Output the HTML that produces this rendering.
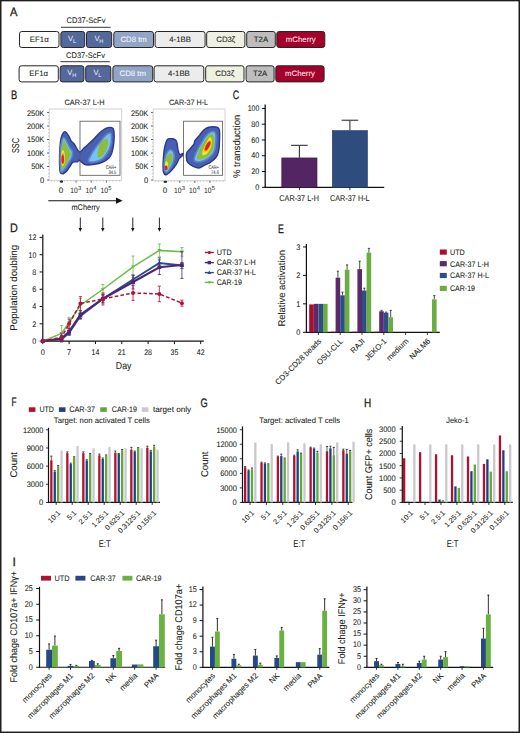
<!DOCTYPE html>
<html><head><meta charset="utf-8"><title>Figure</title>
<style>
html,body{margin:0;padding:0;background:#fff;}
body{width:520px;height:733px;overflow:hidden;}
svg{display:block;font-family:"Liberation Sans", sans-serif;text-rendering:geometricPrecision;}
</style></head><body>
<svg width="520" height="733" viewBox="0 0 520 733">
<rect x="0" y="0" width="520" height="733" fill="#fff"/>
<g fill="#231f20">
<text x="10.00" y="15.90" font-size="12.2" stroke="#231f20" stroke-width="0.08" textLength="7.4" lengthAdjust="spacingAndGlyphs" style="stroke-width:0.3px">A</text>
<rect x="19.50" y="31.50" width="39.50" height="16.00" rx="2.3" fill="#ffffff" stroke="#262626" stroke-width="1"/>
<text x="39.25" y="41.90" font-size="7.8" text-anchor="middle" stroke="#231f20" stroke-width="0.08">EF1&#945;</text>
<rect x="60.90" y="31.50" width="23.80" height="16.00" rx="2.3" fill="#54699b" stroke="#262626" stroke-width="1"/>
<text x="68.10" y="40.60" font-size="7.6" fill="#eef1f7">V</text>
<text x="72.90" y="43.00" font-size="5.6" fill="#eef1f7">L</text>
<rect x="86.50" y="31.50" width="25.20" height="16.00" rx="2.3" fill="#54699b" stroke="#262626" stroke-width="1"/>
<text x="94.40" y="40.60" font-size="7.6" fill="#eef1f7">V</text>
<text x="99.20" y="43.00" font-size="5.6" fill="#eef1f7">H</text>
<rect x="113.80" y="31.50" width="39.70" height="16.00" rx="2.3" fill="#93a5c6" stroke="#262626" stroke-width="1"/>
<text x="133.65" y="41.90" font-size="7.8" text-anchor="middle" fill="#f4f6fa" stroke="#f4f6fa" stroke-width="0.08">CD8 tm</text>
<rect x="155.10" y="31.50" width="50.00" height="16.00" rx="2.3" fill="#ececec" stroke="#262626" stroke-width="1"/>
<text x="180.10" y="41.90" font-size="7.8" text-anchor="middle" stroke="#231f20" stroke-width="0.08">4-1BB</text>
<rect x="206.70" y="31.50" width="38.20" height="16.00" rx="2.3" fill="#eef0e2" stroke="#262626" stroke-width="1"/>
<text x="225.80" y="41.90" font-size="7.8" text-anchor="middle" stroke="#231f20" stroke-width="0.08">CD3&#950;</text>
<rect x="246.70" y="31.50" width="28.60" height="16.00" rx="2.3" fill="#bdbdbd" stroke="#262626" stroke-width="1"/>
<text x="261.00" y="41.90" font-size="7.8" text-anchor="middle" stroke="#231f20" stroke-width="0.08">T2A</text>
<rect x="276.80" y="31.50" width="48.00" height="16.00" rx="2.3" fill="#a5002b" stroke="#262626" stroke-width="1"/>
<text x="300.80" y="41.90" font-size="7.8" text-anchor="middle" fill="#f7e6ea" stroke="#f7e6ea" stroke-width="0.08">mCherry</text>
<rect x="19.10" y="65.80" width="39.20" height="16.10" rx="2.3" fill="#ffffff" stroke="#262626" stroke-width="1"/>
<text x="38.70" y="76.25" font-size="7.8" text-anchor="middle" stroke="#231f20" stroke-width="0.08">EF1&#945;</text>
<rect x="60.20" y="65.80" width="23.70" height="16.10" rx="2.3" fill="#54699b" stroke="#262626" stroke-width="1"/>
<text x="67.35" y="74.95" font-size="7.6" fill="#eef1f7">V</text>
<text x="72.15" y="77.35" font-size="5.6" fill="#eef1f7">H</text>
<rect x="85.70" y="65.80" width="25.10" height="16.10" rx="2.3" fill="#54699b" stroke="#262626" stroke-width="1"/>
<text x="93.55" y="74.95" font-size="7.6" fill="#eef1f7">V</text>
<text x="98.35" y="77.35" font-size="5.6" fill="#eef1f7">L</text>
<rect x="112.90" y="65.80" width="39.80" height="16.10" rx="2.3" fill="#93a5c6" stroke="#262626" stroke-width="1"/>
<text x="132.80" y="76.25" font-size="7.8" text-anchor="middle" fill="#f4f6fa" stroke="#f4f6fa" stroke-width="0.08">CD8 tm</text>
<rect x="154.10" y="65.80" width="49.70" height="16.10" rx="2.3" fill="#ececec" stroke="#262626" stroke-width="1"/>
<text x="178.95" y="76.25" font-size="7.8" text-anchor="middle" stroke="#231f20" stroke-width="0.08">4-1BB</text>
<rect x="205.70" y="65.80" width="38.30" height="16.10" rx="2.3" fill="#eef0e2" stroke="#262626" stroke-width="1"/>
<text x="224.85" y="76.25" font-size="7.8" text-anchor="middle" stroke="#231f20" stroke-width="0.08">CD3&#950;</text>
<rect x="246.10" y="65.80" width="28.00" height="16.10" rx="2.3" fill="#bdbdbd" stroke="#262626" stroke-width="1"/>
<text x="260.10" y="76.25" font-size="7.8" text-anchor="middle" stroke="#231f20" stroke-width="0.08">T2A</text>
<rect x="275.80" y="65.80" width="48.30" height="16.10" rx="2.3" fill="#a5002b" stroke="#262626" stroke-width="1"/>
<text x="299.95" y="76.25" font-size="7.8" text-anchor="middle" fill="#f7e6ea" stroke="#f7e6ea" stroke-width="0.08">mCherry</text>
<text x="86.00" y="23.00" font-size="8.2" text-anchor="middle" stroke="#231f20" stroke-width="0.08" textLength="38.8" lengthAdjust="spacingAndGlyphs">CD37-ScFv</text>
<line x1="61.00" y1="27.30" x2="110.60" y2="27.30" stroke="#231f20" stroke-width="0.9"/>
<text x="85.50" y="57.60" font-size="8.2" text-anchor="middle" stroke="#231f20" stroke-width="0.08" textLength="38.8" lengthAdjust="spacingAndGlyphs">CD37-ScFv</text>
<line x1="60.40" y1="61.70" x2="109.80" y2="61.70" stroke="#231f20" stroke-width="0.9"/>
<text x="10.90" y="99.00" font-size="12.2" stroke="#231f20" stroke-width="0.08" textLength="6.2" lengthAdjust="spacingAndGlyphs" style="stroke-width:0.3px">B</text>
<defs><filter id="bl" x="-20%" y="-20%" width="140%" height="140%"><feGaussianBlur stdDeviation="0.55"/></filter></defs>
<text x="84.50" y="104.80" font-size="7.8" text-anchor="middle" stroke="#231f20" stroke-width="0.08" textLength="40.2" lengthAdjust="spacingAndGlyphs">CAR-37 L-H</text>
<rect x="49.30" y="109.00" width="72.30" height="71.40" fill="none" stroke="#d6d6d6" stroke-width="1.1"/>
<g filter="url(#bl)">
<path d="M65.50,131.80C66.50,132.30 67.97,134.80 68.90,136.30C69.83,137.80 70.17,139.43 71.10,140.80C72.03,142.17 73.43,143.00 74.50,144.50C75.57,146.00 76.58,148.55 77.50,149.80C78.42,151.05 78.92,152.30 80.00,152.00C81.08,151.70 82.98,148.97 84.00,148.00C85.02,147.03 84.95,147.23 86.10,146.20C87.25,145.17 89.15,143.48 90.90,141.80C92.65,140.12 94.85,137.85 96.60,136.10C98.35,134.35 99.78,132.63 101.40,131.30C103.02,129.97 104.55,128.70 106.30,128.10C108.05,127.50 110.63,127.23 111.90,127.70C113.17,128.17 113.57,128.48 113.90,130.90C114.23,133.32 114.23,138.57 113.90,142.20C113.57,145.83 112.77,150.02 111.90,152.70C111.03,155.38 110.32,156.68 108.70,158.30C107.08,159.92 104.62,161.38 102.20,162.40C99.78,163.42 96.88,164.00 94.20,164.40C91.52,164.80 88.13,165.13 86.10,164.80C84.07,164.47 83.18,163.20 82.00,162.40C80.82,161.60 79.75,160.10 79.00,160.00C78.25,159.90 78.50,161.45 77.50,161.80C76.50,162.15 74.25,161.35 73.00,162.10C71.75,162.85 71.00,164.85 70.00,166.30C69.00,167.75 68.12,169.55 67.00,170.80C65.88,172.05 64.42,173.55 63.30,173.80C62.18,174.05 60.93,174.18 60.30,172.30C59.67,170.42 59.57,166.63 59.50,162.50C59.43,158.37 59.65,151.50 59.90,147.50C60.15,143.50 60.50,140.87 61.00,138.50C61.50,136.13 62.15,134.42 62.90,133.30C63.65,132.18 64.50,131.30 65.50,131.80Z" fill="#4a5eb2" stroke="#2c3990" stroke-width="1.4" stroke-linejoin="round"/>
<path d="M63.80,137.50C64.58,137.50 65.55,139.42 66.50,141.00C67.45,142.58 68.50,145.17 69.50,147.00C70.50,148.83 72.08,150.33 72.50,152.00C72.92,153.67 72.75,155.00 72.00,157.00C71.25,159.00 69.42,161.75 68.00,164.00C66.58,166.25 64.67,169.25 63.50,170.50C62.33,171.75 61.55,172.75 61.00,171.50C60.45,170.25 60.30,166.58 60.20,163.00C60.10,159.42 60.13,153.67 60.40,150.00C60.67,146.33 61.23,143.08 61.80,141.00C62.37,138.92 63.02,137.50 63.80,137.50Z" fill="#72c5ef" stroke="#5d82cc" stroke-width="1.6" stroke-linejoin="round"/>
<path d="M64.20,140.50C64.95,140.83 65.95,143.92 67.00,146.00C68.05,148.08 70.00,151.25 70.50,153.00C71.00,154.75 70.67,154.67 70.00,156.50C69.33,158.33 67.73,161.75 66.50,164.00C65.27,166.25 63.48,169.83 62.60,170.00C61.72,170.17 61.43,168.00 61.20,165.00C60.97,162.00 60.98,155.50 61.20,152.00C61.42,148.50 62.00,145.92 62.50,144.00C63.00,142.08 63.45,140.17 64.20,140.50Z" fill="#8cbd3b"/>
<ellipse cx="62.9" cy="158.0" rx="2.0" ry="8.0" transform="rotate(0 62.9 158.0)" fill="#f4e52a"/>
<ellipse cx="62.8" cy="158.8" rx="1.6" ry="6.0" transform="rotate(0 62.8 158.8)" fill="#f6961c"/>
<ellipse cx="62.7" cy="159.3" rx="1.25" ry="4.4" transform="rotate(0 62.7 159.3)" fill="#e1201b"/>
<path d="M88.50,161.00C88.00,159.83 90.08,156.83 91.00,155.00C91.92,153.17 92.83,151.75 94.00,150.00C95.17,148.25 96.58,146.33 98.00,144.50C99.42,142.67 101.08,140.67 102.50,139.00C103.92,137.33 105.17,135.50 106.50,134.50C107.83,133.50 109.67,132.58 110.50,133.00C111.33,133.42 111.50,134.83 111.50,137.00C111.50,139.17 111.25,143.25 110.50,146.00C109.75,148.75 108.50,151.25 107.00,153.50C105.50,155.75 103.67,158.08 101.50,159.50C99.33,160.92 96.17,161.75 94.00,162.00C91.83,162.25 89.00,162.17 88.50,161.00Z" fill="#72c5ef" stroke="#5d82cc" stroke-width="1.6" stroke-linejoin="round"/>
<path d="M97.40,155.90C97.53,154.02 98.07,148.75 99.00,146.20C99.93,143.65 101.65,141.93 103.00,140.60C104.35,139.27 106.28,137.80 107.10,138.20C107.92,138.60 108.03,140.98 107.90,143.00C107.77,145.02 107.25,148.15 106.30,150.30C105.35,152.45 103.55,154.70 102.20,155.90C100.85,157.10 99.00,157.50 98.20,157.50C97.40,157.50 97.27,157.78 97.40,155.90Z" fill="#8cbd3b"/>
</g>
<rect x="80.00" y="121.20" width="40.00" height="54.10" fill="none" stroke="#555" stroke-width="0.8"/>
<text x="116.20" y="168.60" font-size="5.2" text-anchor="end" fill="#444" stroke="#444" stroke-width="0.08" textLength="10.4" lengthAdjust="spacingAndGlyphs">CAR+</text>
<text x="116.30" y="173.50" font-size="5.2" text-anchor="end" fill="#444" stroke="#444" stroke-width="0.08" textLength="7.9" lengthAdjust="spacingAndGlyphs">34.5</text>
<text x="44.20" y="115.50" font-size="8.0" text-anchor="end" stroke="#231f20" stroke-width="0.08" textLength="17.3" lengthAdjust="spacingAndGlyphs">250K</text>
<line x1="47.10" y1="112.60" x2="49.00" y2="112.60" stroke="#333" stroke-width="0.8"/>
<text x="44.20" y="128.90" font-size="8.0" text-anchor="end" stroke="#231f20" stroke-width="0.08" textLength="17.3" lengthAdjust="spacingAndGlyphs">200K</text>
<line x1="47.10" y1="126.00" x2="49.00" y2="126.00" stroke="#333" stroke-width="0.8"/>
<text x="44.20" y="142.40" font-size="8.0" text-anchor="end" stroke="#231f20" stroke-width="0.08" textLength="17.3" lengthAdjust="spacingAndGlyphs">150K</text>
<line x1="47.10" y1="139.50" x2="49.00" y2="139.50" stroke="#333" stroke-width="0.8"/>
<text x="44.20" y="155.90" font-size="8.0" text-anchor="end" stroke="#231f20" stroke-width="0.08" textLength="17.3" lengthAdjust="spacingAndGlyphs">100K</text>
<line x1="47.10" y1="153.00" x2="49.00" y2="153.00" stroke="#333" stroke-width="0.8"/>
<text x="44.20" y="169.40" font-size="8.0" text-anchor="end" stroke="#231f20" stroke-width="0.08" textLength="13.0" lengthAdjust="spacingAndGlyphs">50K</text>
<line x1="47.10" y1="166.50" x2="49.00" y2="166.50" stroke="#333" stroke-width="0.8"/>
<text x="44.20" y="182.90" font-size="8.0" text-anchor="end" stroke="#231f20" stroke-width="0.08" textLength="4.2" lengthAdjust="spacingAndGlyphs">0</text>
<line x1="47.10" y1="180.00" x2="49.00" y2="180.00" stroke="#333" stroke-width="0.8"/>
<line x1="48.10" y1="122.65" x2="49.00" y2="122.65" stroke="#888" stroke-width="0.5"/>
<line x1="48.10" y1="119.30" x2="49.00" y2="119.30" stroke="#888" stroke-width="0.5"/>
<line x1="48.10" y1="115.95" x2="49.00" y2="115.95" stroke="#888" stroke-width="0.5"/>
<line x1="48.10" y1="136.15" x2="49.00" y2="136.15" stroke="#888" stroke-width="0.5"/>
<line x1="48.10" y1="132.80" x2="49.00" y2="132.80" stroke="#888" stroke-width="0.5"/>
<line x1="48.10" y1="129.45" x2="49.00" y2="129.45" stroke="#888" stroke-width="0.5"/>
<line x1="48.10" y1="149.65" x2="49.00" y2="149.65" stroke="#888" stroke-width="0.5"/>
<line x1="48.10" y1="146.30" x2="49.00" y2="146.30" stroke="#888" stroke-width="0.5"/>
<line x1="48.10" y1="142.95" x2="49.00" y2="142.95" stroke="#888" stroke-width="0.5"/>
<line x1="48.10" y1="163.15" x2="49.00" y2="163.15" stroke="#888" stroke-width="0.5"/>
<line x1="48.10" y1="159.80" x2="49.00" y2="159.80" stroke="#888" stroke-width="0.5"/>
<line x1="48.10" y1="156.45" x2="49.00" y2="156.45" stroke="#888" stroke-width="0.5"/>
<line x1="48.10" y1="176.65" x2="49.00" y2="176.65" stroke="#888" stroke-width="0.5"/>
<line x1="48.10" y1="173.30" x2="49.00" y2="173.30" stroke="#888" stroke-width="0.5"/>
<line x1="48.10" y1="169.95" x2="49.00" y2="169.95" stroke="#888" stroke-width="0.5"/>
<line x1="61.59" y1="180.70" x2="61.59" y2="182.60" stroke="#333" stroke-width="0.8"/>
<line x1="76.05" y1="180.70" x2="76.05" y2="182.60" stroke="#333" stroke-width="0.8"/>
<line x1="91.23" y1="180.70" x2="91.23" y2="182.60" stroke="#333" stroke-width="0.8"/>
<line x1="106.42" y1="180.70" x2="106.42" y2="182.60" stroke="#333" stroke-width="0.8"/>
<line x1="51.30" y1="180.70" x2="51.30" y2="181.60" stroke="#888" stroke-width="0.5"/>
<line x1="54.55" y1="180.70" x2="54.55" y2="181.60" stroke="#888" stroke-width="0.5"/>
<line x1="57.80" y1="180.70" x2="57.80" y2="181.60" stroke="#888" stroke-width="0.5"/>
<line x1="61.06" y1="180.70" x2="61.06" y2="181.60" stroke="#888" stroke-width="0.5"/>
<line x1="64.31" y1="180.70" x2="64.31" y2="181.60" stroke="#888" stroke-width="0.5"/>
<line x1="67.56" y1="180.70" x2="67.56" y2="181.60" stroke="#888" stroke-width="0.5"/>
<line x1="70.81" y1="180.70" x2="70.81" y2="181.60" stroke="#888" stroke-width="0.5"/>
<line x1="74.07" y1="180.70" x2="74.07" y2="181.60" stroke="#888" stroke-width="0.5"/>
<line x1="77.32" y1="180.70" x2="77.32" y2="181.60" stroke="#888" stroke-width="0.5"/>
<line x1="80.57" y1="180.70" x2="80.57" y2="181.60" stroke="#888" stroke-width="0.5"/>
<line x1="83.82" y1="180.70" x2="83.82" y2="181.60" stroke="#888" stroke-width="0.5"/>
<line x1="87.08" y1="180.70" x2="87.08" y2="181.60" stroke="#888" stroke-width="0.5"/>
<line x1="90.33" y1="180.70" x2="90.33" y2="181.60" stroke="#888" stroke-width="0.5"/>
<line x1="93.58" y1="180.70" x2="93.58" y2="181.60" stroke="#888" stroke-width="0.5"/>
<line x1="96.83" y1="180.70" x2="96.83" y2="181.60" stroke="#888" stroke-width="0.5"/>
<line x1="100.09" y1="180.70" x2="100.09" y2="181.60" stroke="#888" stroke-width="0.5"/>
<line x1="103.34" y1="180.70" x2="103.34" y2="181.60" stroke="#888" stroke-width="0.5"/>
<line x1="106.59" y1="180.70" x2="106.59" y2="181.60" stroke="#888" stroke-width="0.5"/>
<line x1="109.84" y1="180.70" x2="109.84" y2="181.60" stroke="#888" stroke-width="0.5"/>
<line x1="113.10" y1="180.70" x2="113.10" y2="181.60" stroke="#888" stroke-width="0.5"/>
<line x1="116.35" y1="180.70" x2="116.35" y2="181.60" stroke="#888" stroke-width="0.5"/>
<line x1="119.60" y1="180.70" x2="119.60" y2="181.60" stroke="#888" stroke-width="0.5"/>
<rect x="59.80" y="180.70" width="3.2" height="1.8" fill="#222"/>
<text x="61.09" y="193.20" font-size="8.0" text-anchor="middle" stroke="#231f20" stroke-width="0.08">0</text>
<text x="70.25" y="193.2" font-size="7.8" textLength="7.5" lengthAdjust="spacingAndGlyphs">10</text>
<text x="77.95" y="189.8" font-size="5.8">3</text>
<text x="85.43" y="193.2" font-size="7.8" textLength="7.5" lengthAdjust="spacingAndGlyphs">10</text>
<text x="93.13" y="189.8" font-size="5.8">4</text>
<text x="100.62" y="193.2" font-size="7.8" textLength="7.5" lengthAdjust="spacingAndGlyphs">10</text>
<text x="108.32" y="189.8" font-size="5.8">5</text>
<text x="188.50" y="104.80" font-size="7.8" text-anchor="middle" stroke="#231f20" stroke-width="0.08" textLength="39.2" lengthAdjust="spacingAndGlyphs">CAR-37 H-L</text>
<rect x="153.20" y="109.00" width="71.80" height="71.60" fill="none" stroke="#d6d6d6" stroke-width="1.1"/>
<g filter="url(#bl)">
<path d="M168.20,138.90C169.75,138.32 173.62,138.72 175.10,139.50C176.58,140.28 176.60,141.77 177.10,143.60C177.60,145.43 177.65,148.67 178.10,150.50C178.55,152.33 178.95,154.13 179.80,154.60C180.65,155.07 182.73,153.13 183.20,153.30C183.67,153.47 183.28,154.72 182.60,155.60C181.92,156.48 180.13,157.18 179.10,158.60C178.07,160.02 177.65,162.17 176.40,164.10C175.15,166.03 173.30,168.43 171.60,170.20C169.90,171.97 167.55,174.35 166.20,174.70C164.85,175.05 164.02,174.07 163.50,172.30C162.98,170.53 163.00,167.73 163.10,164.10C163.20,160.47 163.65,154.02 164.10,150.50C164.55,146.98 165.12,144.93 165.80,143.00C166.48,141.07 166.65,139.48 168.20,138.90Z" fill="#4a5eb2" stroke="#2c3990" stroke-width="1.4" stroke-linejoin="round"/>
<path d="M170.60,149.80C171.62,149.92 173.13,150.92 173.70,152.50C174.27,154.08 174.45,156.92 174.00,159.30C173.55,161.68 172.18,164.63 171.00,166.80C169.82,168.97 167.98,171.83 166.90,172.30C165.82,172.77 164.85,171.88 164.50,169.60C164.15,167.32 164.28,161.57 164.80,158.60C165.32,155.63 166.63,153.27 167.60,151.80C168.57,150.33 169.58,149.68 170.60,149.80Z" fill="#72c5ef" stroke="#5d82cc" stroke-width="1.6" stroke-linejoin="round"/>
<path d="M171.00,153.20C171.85,153.32 172.60,154.42 172.70,155.90C172.80,157.38 172.35,160.05 171.60,162.10C170.85,164.15 169.22,166.95 168.20,168.20C167.18,169.45 165.95,170.97 165.50,169.60C165.05,168.23 165.15,162.40 165.50,160.00C165.85,157.60 166.68,156.33 167.60,155.20C168.52,154.07 170.15,153.08 171.00,153.20Z" fill="#8cbd3b"/>
<ellipse cx="166.5" cy="165.0" rx="1.6" ry="3.8" transform="rotate(0 166.5 165.0)" fill="#f4e52a"/>
<ellipse cx="166.2" cy="167.8" rx="1.4" ry="2.5" transform="rotate(0 166.2 167.8)" fill="#e1201b"/>
<path d="M186.80,152.70C187.42,151.23 188.88,150.18 190.10,148.70C191.32,147.22 193.30,145.15 194.10,143.80C194.90,142.45 193.95,142.08 194.90,140.60C195.85,139.12 198.32,136.65 199.80,134.90C201.28,133.15 202.32,131.37 203.80,130.10C205.28,128.83 206.68,127.82 208.70,127.30C210.72,126.78 214.15,126.67 215.90,127.00C217.65,127.33 218.58,127.43 219.20,129.30C219.82,131.17 219.67,134.70 219.60,138.20C219.53,141.70 219.42,147.08 218.80,150.30C218.18,153.52 217.32,155.48 215.90,157.50C214.48,159.52 212.32,161.05 210.30,162.40C208.28,163.75 205.68,164.67 203.80,165.60C201.92,166.53 200.75,167.87 199.00,168.00C197.25,168.13 195.18,167.33 193.30,166.40C191.42,165.47 188.85,163.88 187.70,162.40C186.55,160.92 186.55,159.12 186.40,157.50C186.25,155.88 186.18,154.17 186.80,152.70Z" fill="#4a5eb2" stroke="#2c3990" stroke-width="1.4" stroke-linejoin="round"/>
<path d="M194.10,160.00C193.82,158.32 195.28,154.73 196.50,151.90C197.72,149.07 199.78,145.70 201.40,143.00C203.02,140.30 204.58,137.58 206.20,135.70C207.82,133.82 209.62,132.23 211.10,131.70C212.58,131.17 214.30,131.15 215.10,132.50C215.90,133.85 216.03,136.70 215.90,139.80C215.77,142.90 215.23,148.28 214.30,151.10C213.37,153.92 212.05,155.08 210.30,156.70C208.55,158.32 205.82,159.92 203.80,160.80C201.78,161.68 199.82,162.13 198.20,162.00C196.58,161.87 194.38,161.68 194.10,160.00Z" fill="#72c5ef" stroke="#5d82cc" stroke-width="1.6" stroke-linejoin="round"/>
<path d="M197.00,158.30C197.00,156.88 198.00,153.52 199.00,151.10C200.00,148.68 201.67,146.10 203.00,143.80C204.33,141.50 205.65,138.98 207.00,137.30C208.35,135.62 209.95,133.97 211.10,133.70C212.25,133.43 213.37,134.15 213.90,135.70C214.43,137.25 214.50,140.57 214.30,143.00C214.10,145.43 213.63,148.15 212.70,150.30C211.77,152.45 210.32,154.48 208.70,155.90C207.08,157.32 204.62,158.18 203.00,158.80C201.38,159.42 200.00,159.68 199.00,159.60C198.00,159.52 197.00,159.72 197.00,158.30Z" fill="#8cbd3b"/>
<path d="M202.20,154.30C202.07,153.08 203.00,149.95 203.80,147.80C204.60,145.65 205.98,143.15 207.00,141.40C208.02,139.65 209.08,137.43 209.90,137.30C210.72,137.17 211.70,138.98 211.90,140.60C212.10,142.22 211.78,144.98 211.10,147.00C210.42,149.02 208.88,151.35 207.80,152.70C206.72,154.05 205.53,154.83 204.60,155.10C203.67,155.37 202.33,155.52 202.20,154.30Z" fill="#f4e52a"/>
<ellipse cx="207.6" cy="146.2" rx="2.4" ry="6.2" transform="rotate(28 207.6 146.2)" fill="#f6961c"/>
<ellipse cx="207.7" cy="146.0" rx="1.7" ry="4.9" transform="rotate(28 207.7 146.0)" fill="#e1201b"/>
</g>
<rect x="183.60" y="121.20" width="39.00" height="54.10" fill="none" stroke="#555" stroke-width="0.8"/>
<text x="218.80" y="168.60" font-size="5.2" text-anchor="end" fill="#444" stroke="#444" stroke-width="0.08" textLength="10.4" lengthAdjust="spacingAndGlyphs">CAR+</text>
<text x="218.90" y="173.50" font-size="5.2" text-anchor="end" fill="#444" stroke="#444" stroke-width="0.08" textLength="7.9" lengthAdjust="spacingAndGlyphs">74.6</text>
<text x="148.30" y="115.50" font-size="8.0" text-anchor="end" stroke="#231f20" stroke-width="0.08" textLength="17.3" lengthAdjust="spacingAndGlyphs">250K</text>
<line x1="151.00" y1="112.60" x2="152.90" y2="112.60" stroke="#333" stroke-width="0.8"/>
<text x="148.30" y="128.90" font-size="8.0" text-anchor="end" stroke="#231f20" stroke-width="0.08" textLength="17.3" lengthAdjust="spacingAndGlyphs">200K</text>
<line x1="151.00" y1="126.00" x2="152.90" y2="126.00" stroke="#333" stroke-width="0.8"/>
<text x="148.30" y="142.40" font-size="8.0" text-anchor="end" stroke="#231f20" stroke-width="0.08" textLength="17.3" lengthAdjust="spacingAndGlyphs">150K</text>
<line x1="151.00" y1="139.50" x2="152.90" y2="139.50" stroke="#333" stroke-width="0.8"/>
<text x="148.30" y="155.90" font-size="8.0" text-anchor="end" stroke="#231f20" stroke-width="0.08" textLength="17.3" lengthAdjust="spacingAndGlyphs">100K</text>
<line x1="151.00" y1="153.00" x2="152.90" y2="153.00" stroke="#333" stroke-width="0.8"/>
<text x="148.30" y="169.40" font-size="8.0" text-anchor="end" stroke="#231f20" stroke-width="0.08" textLength="13.0" lengthAdjust="spacingAndGlyphs">50K</text>
<line x1="151.00" y1="166.50" x2="152.90" y2="166.50" stroke="#333" stroke-width="0.8"/>
<text x="148.30" y="182.90" font-size="8.0" text-anchor="end" stroke="#231f20" stroke-width="0.08" textLength="4.2" lengthAdjust="spacingAndGlyphs">0</text>
<line x1="151.00" y1="180.00" x2="152.90" y2="180.00" stroke="#333" stroke-width="0.8"/>
<line x1="152.00" y1="122.65" x2="152.90" y2="122.65" stroke="#888" stroke-width="0.5"/>
<line x1="152.00" y1="119.30" x2="152.90" y2="119.30" stroke="#888" stroke-width="0.5"/>
<line x1="152.00" y1="115.95" x2="152.90" y2="115.95" stroke="#888" stroke-width="0.5"/>
<line x1="152.00" y1="136.15" x2="152.90" y2="136.15" stroke="#888" stroke-width="0.5"/>
<line x1="152.00" y1="132.80" x2="152.90" y2="132.80" stroke="#888" stroke-width="0.5"/>
<line x1="152.00" y1="129.45" x2="152.90" y2="129.45" stroke="#888" stroke-width="0.5"/>
<line x1="152.00" y1="149.65" x2="152.90" y2="149.65" stroke="#888" stroke-width="0.5"/>
<line x1="152.00" y1="146.30" x2="152.90" y2="146.30" stroke="#888" stroke-width="0.5"/>
<line x1="152.00" y1="142.95" x2="152.90" y2="142.95" stroke="#888" stroke-width="0.5"/>
<line x1="152.00" y1="163.15" x2="152.90" y2="163.15" stroke="#888" stroke-width="0.5"/>
<line x1="152.00" y1="159.80" x2="152.90" y2="159.80" stroke="#888" stroke-width="0.5"/>
<line x1="152.00" y1="156.45" x2="152.90" y2="156.45" stroke="#888" stroke-width="0.5"/>
<line x1="152.00" y1="176.65" x2="152.90" y2="176.65" stroke="#888" stroke-width="0.5"/>
<line x1="152.00" y1="173.30" x2="152.90" y2="173.30" stroke="#888" stroke-width="0.5"/>
<line x1="152.00" y1="169.95" x2="152.90" y2="169.95" stroke="#888" stroke-width="0.5"/>
<line x1="165.41" y1="180.90" x2="165.41" y2="182.80" stroke="#333" stroke-width="0.8"/>
<line x1="179.77" y1="180.90" x2="179.77" y2="182.80" stroke="#333" stroke-width="0.8"/>
<line x1="194.84" y1="180.90" x2="194.84" y2="182.80" stroke="#333" stroke-width="0.8"/>
<line x1="209.92" y1="180.90" x2="209.92" y2="182.80" stroke="#333" stroke-width="0.8"/>
<line x1="155.20" y1="180.90" x2="155.20" y2="181.80" stroke="#888" stroke-width="0.5"/>
<line x1="158.43" y1="180.90" x2="158.43" y2="181.80" stroke="#888" stroke-width="0.5"/>
<line x1="161.66" y1="180.90" x2="161.66" y2="181.80" stroke="#888" stroke-width="0.5"/>
<line x1="164.89" y1="180.90" x2="164.89" y2="181.80" stroke="#888" stroke-width="0.5"/>
<line x1="168.11" y1="180.90" x2="168.11" y2="181.80" stroke="#888" stroke-width="0.5"/>
<line x1="171.34" y1="180.90" x2="171.34" y2="181.80" stroke="#888" stroke-width="0.5"/>
<line x1="174.57" y1="180.90" x2="174.57" y2="181.80" stroke="#888" stroke-width="0.5"/>
<line x1="177.80" y1="180.90" x2="177.80" y2="181.80" stroke="#888" stroke-width="0.5"/>
<line x1="181.03" y1="180.90" x2="181.03" y2="181.80" stroke="#888" stroke-width="0.5"/>
<line x1="184.26" y1="180.90" x2="184.26" y2="181.80" stroke="#888" stroke-width="0.5"/>
<line x1="187.49" y1="180.90" x2="187.49" y2="181.80" stroke="#888" stroke-width="0.5"/>
<line x1="190.71" y1="180.90" x2="190.71" y2="181.80" stroke="#888" stroke-width="0.5"/>
<line x1="193.94" y1="180.90" x2="193.94" y2="181.80" stroke="#888" stroke-width="0.5"/>
<line x1="197.17" y1="180.90" x2="197.17" y2="181.80" stroke="#888" stroke-width="0.5"/>
<line x1="200.40" y1="180.90" x2="200.40" y2="181.80" stroke="#888" stroke-width="0.5"/>
<line x1="203.63" y1="180.90" x2="203.63" y2="181.80" stroke="#888" stroke-width="0.5"/>
<line x1="206.86" y1="180.90" x2="206.86" y2="181.80" stroke="#888" stroke-width="0.5"/>
<line x1="210.09" y1="180.90" x2="210.09" y2="181.80" stroke="#888" stroke-width="0.5"/>
<line x1="213.31" y1="180.90" x2="213.31" y2="181.80" stroke="#888" stroke-width="0.5"/>
<line x1="216.54" y1="180.90" x2="216.54" y2="181.80" stroke="#888" stroke-width="0.5"/>
<line x1="219.77" y1="180.90" x2="219.77" y2="181.80" stroke="#888" stroke-width="0.5"/>
<line x1="223.00" y1="180.90" x2="223.00" y2="181.80" stroke="#888" stroke-width="0.5"/>
<rect x="163.70" y="180.90" width="3.2" height="1.8" fill="#222"/>
<text x="164.91" y="193.20" font-size="8.0" text-anchor="middle" stroke="#231f20" stroke-width="0.08">0</text>
<text x="173.97" y="193.2" font-size="7.8" textLength="7.5" lengthAdjust="spacingAndGlyphs">10</text>
<text x="181.67" y="189.8" font-size="5.8">3</text>
<text x="189.04" y="193.2" font-size="7.8" textLength="7.5" lengthAdjust="spacingAndGlyphs">10</text>
<text x="196.74" y="189.8" font-size="5.8">4</text>
<text x="204.12" y="193.2" font-size="7.8" textLength="7.5" lengthAdjust="spacingAndGlyphs">10</text>
<text x="211.82" y="189.8" font-size="5.8">5</text>
<text x="18.60" y="145.50" font-size="10.0" text-anchor="middle" stroke="#231f20" stroke-width="0.08" textLength="15.0" lengthAdjust="spacingAndGlyphs" transform="rotate(-90 18.60 145.50)">SSC</text>
<line x1="48.30" y1="200.70" x2="117.50" y2="200.70" stroke="#111" stroke-width="1.1"/>
<path d="M116.0,197.6 L122.6,200.7 L116.0,203.8 Z" fill="#111"/>
<text x="85.60" y="210.30" font-size="8.2" text-anchor="middle" stroke="#231f20" stroke-width="0.08" textLength="28.4" lengthAdjust="spacingAndGlyphs">mCherry</text>
<text x="232.80" y="99.00" font-size="12.2" stroke="#231f20" stroke-width="0.08" textLength="6.4" lengthAdjust="spacingAndGlyphs" style="stroke-width:0.3px">C</text>
<line x1="265.20" y1="104.60" x2="265.20" y2="187.90" stroke="#111" stroke-width="1.3"/>
<line x1="264.60" y1="187.30" x2="384.20" y2="187.30" stroke="#111" stroke-width="1.2"/>
<line x1="261.90" y1="187.30" x2="265.20" y2="187.30" stroke="#111" stroke-width="1.0"/>
<text x="259.30" y="190.00" font-size="8.2" text-anchor="end" stroke="#231f20" stroke-width="0.08" textLength="4.1" lengthAdjust="spacingAndGlyphs">0</text>
<line x1="261.90" y1="171.52" x2="265.20" y2="171.52" stroke="#111" stroke-width="1.0"/>
<text x="259.30" y="174.22" font-size="8.2" text-anchor="end" stroke="#231f20" stroke-width="0.08" textLength="8.0" lengthAdjust="spacingAndGlyphs">20</text>
<line x1="261.90" y1="155.74" x2="265.20" y2="155.74" stroke="#111" stroke-width="1.0"/>
<text x="259.30" y="158.44" font-size="8.2" text-anchor="end" stroke="#231f20" stroke-width="0.08" textLength="8.0" lengthAdjust="spacingAndGlyphs">40</text>
<line x1="261.90" y1="139.96" x2="265.20" y2="139.96" stroke="#111" stroke-width="1.0"/>
<text x="259.30" y="142.66" font-size="8.2" text-anchor="end" stroke="#231f20" stroke-width="0.08" textLength="8.0" lengthAdjust="spacingAndGlyphs">60</text>
<line x1="261.90" y1="124.18" x2="265.20" y2="124.18" stroke="#111" stroke-width="1.0"/>
<text x="259.30" y="126.88" font-size="8.2" text-anchor="end" stroke="#231f20" stroke-width="0.08" textLength="8.0" lengthAdjust="spacingAndGlyphs">80</text>
<line x1="261.90" y1="108.40" x2="265.20" y2="108.40" stroke="#111" stroke-width="1.0"/>
<text x="259.30" y="111.10" font-size="8.2" text-anchor="end" stroke="#231f20" stroke-width="0.08" textLength="11.6" lengthAdjust="spacingAndGlyphs">100</text>
<line x1="299.40" y1="157.63" x2="299.40" y2="145.33" stroke="#333" stroke-width="1.1"/>
<line x1="291.10" y1="145.33" x2="307.70" y2="145.33" stroke="#333" stroke-width="1.1"/>
<rect x="281.80" y="157.93" width="35.20" height="29.37" fill="#532562" stroke="#3f1550" stroke-width="0.6"/>
<line x1="299.40" y1="187.30" x2="299.40" y2="190.10" stroke="#231f20" stroke-width="0.9"/>
<line x1="349.90" y1="130.26" x2="349.90" y2="120.24" stroke="#333" stroke-width="1.1"/>
<line x1="341.60" y1="120.24" x2="358.20" y2="120.24" stroke="#333" stroke-width="1.1"/>
<rect x="332.30" y="130.56" width="35.20" height="56.74" fill="#2e4d7e" stroke="#243f6c" stroke-width="0.6"/>
<line x1="349.90" y1="187.30" x2="349.90" y2="190.10" stroke="#231f20" stroke-width="0.9"/>
<text x="299.10" y="201.00" font-size="8.4" text-anchor="middle" stroke="#231f20" stroke-width="0.08" textLength="39.6" lengthAdjust="spacingAndGlyphs">CAR-37 L-H</text>
<text x="349.80" y="201.00" font-size="8.4" text-anchor="middle" stroke="#231f20" stroke-width="0.08" textLength="39.6" lengthAdjust="spacingAndGlyphs">CAR-37 H-L</text>
<text x="239.80" y="146.40" font-size="9.8" text-anchor="middle" stroke="#231f20" stroke-width="0.08" textLength="63.4" lengthAdjust="spacingAndGlyphs" transform="rotate(-90 239.80 146.40)">% transduction</text>
<text x="10.00" y="232.30" font-size="12.2" stroke="#231f20" stroke-width="0.08" textLength="7.8" lengthAdjust="spacingAndGlyphs" style="stroke-width:0.3px">D</text>
<line x1="42.80" y1="234.60" x2="42.80" y2="341.70" stroke="#111" stroke-width="1.2"/>
<line x1="42.20" y1="341.10" x2="203.80" y2="341.10" stroke="#111" stroke-width="1.2"/>
<line x1="39.60" y1="341.10" x2="42.80" y2="341.10" stroke="#111" stroke-width="1.0"/>
<text x="36.30" y="343.90" font-size="8.2" text-anchor="end" stroke="#231f20" stroke-width="0.08" textLength="4.0" lengthAdjust="spacingAndGlyphs">0</text>
<line x1="39.60" y1="323.82" x2="42.80" y2="323.82" stroke="#111" stroke-width="1.0"/>
<text x="36.30" y="326.62" font-size="8.2" text-anchor="end" stroke="#231f20" stroke-width="0.08" textLength="4.0" lengthAdjust="spacingAndGlyphs">2</text>
<line x1="39.60" y1="306.54" x2="42.80" y2="306.54" stroke="#111" stroke-width="1.0"/>
<text x="36.30" y="309.34" font-size="8.2" text-anchor="end" stroke="#231f20" stroke-width="0.08" textLength="4.0" lengthAdjust="spacingAndGlyphs">4</text>
<line x1="39.60" y1="289.26" x2="42.80" y2="289.26" stroke="#111" stroke-width="1.0"/>
<text x="36.30" y="292.06" font-size="8.2" text-anchor="end" stroke="#231f20" stroke-width="0.08" textLength="4.0" lengthAdjust="spacingAndGlyphs">6</text>
<line x1="39.60" y1="271.98" x2="42.80" y2="271.98" stroke="#111" stroke-width="1.0"/>
<text x="36.30" y="274.78" font-size="8.2" text-anchor="end" stroke="#231f20" stroke-width="0.08" textLength="4.0" lengthAdjust="spacingAndGlyphs">8</text>
<line x1="39.60" y1="254.70" x2="42.80" y2="254.70" stroke="#111" stroke-width="1.0"/>
<text x="36.30" y="257.50" font-size="8.2" text-anchor="end" stroke="#231f20" stroke-width="0.08" textLength="7.7" lengthAdjust="spacingAndGlyphs">10</text>
<line x1="39.60" y1="237.42" x2="42.80" y2="237.42" stroke="#111" stroke-width="1.0"/>
<text x="36.30" y="240.22" font-size="8.2" text-anchor="end" stroke="#231f20" stroke-width="0.08" textLength="7.7" lengthAdjust="spacingAndGlyphs">12</text>
<line x1="42.80" y1="341.10" x2="42.80" y2="344.10" stroke="#111" stroke-width="1.0"/>
<text x="42.80" y="355.20" font-size="8.2" text-anchor="middle" stroke="#231f20" stroke-width="0.08" textLength="4.1" lengthAdjust="spacingAndGlyphs">0</text>
<line x1="69.12" y1="341.10" x2="69.12" y2="344.10" stroke="#111" stroke-width="1.0"/>
<text x="69.12" y="355.20" font-size="8.2" text-anchor="middle" stroke="#231f20" stroke-width="0.08" textLength="4.1" lengthAdjust="spacingAndGlyphs">7</text>
<line x1="95.44" y1="341.10" x2="95.44" y2="344.10" stroke="#111" stroke-width="1.0"/>
<text x="95.44" y="355.20" font-size="8.2" text-anchor="middle" stroke="#231f20" stroke-width="0.08" textLength="7.8" lengthAdjust="spacingAndGlyphs">14</text>
<line x1="121.76" y1="341.10" x2="121.76" y2="344.10" stroke="#111" stroke-width="1.0"/>
<text x="121.76" y="355.20" font-size="8.2" text-anchor="middle" stroke="#231f20" stroke-width="0.08" textLength="7.8" lengthAdjust="spacingAndGlyphs">21</text>
<line x1="148.08" y1="341.10" x2="148.08" y2="344.10" stroke="#111" stroke-width="1.0"/>
<text x="148.08" y="355.20" font-size="8.2" text-anchor="middle" stroke="#231f20" stroke-width="0.08" textLength="7.8" lengthAdjust="spacingAndGlyphs">28</text>
<line x1="174.40" y1="341.10" x2="174.40" y2="344.10" stroke="#111" stroke-width="1.0"/>
<text x="174.40" y="355.20" font-size="8.2" text-anchor="middle" stroke="#231f20" stroke-width="0.08" textLength="7.8" lengthAdjust="spacingAndGlyphs">35</text>
<line x1="200.72" y1="341.10" x2="200.72" y2="344.10" stroke="#111" stroke-width="1.0"/>
<text x="200.72" y="355.20" font-size="8.2" text-anchor="middle" stroke="#231f20" stroke-width="0.08" textLength="7.8" lengthAdjust="spacingAndGlyphs">42</text>
<text x="123.60" y="368.80" font-size="10.0" text-anchor="middle" stroke="#231f20" stroke-width="0.08" textLength="15.6" lengthAdjust="spacingAndGlyphs">Day</text>
<text x="17.40" y="287.80" font-size="9.8" text-anchor="middle" stroke="#231f20" stroke-width="0.08" textLength="86.0" lengthAdjust="spacingAndGlyphs" transform="rotate(-90 17.40 287.80)">Population doubling</text>
<line x1="80.30" y1="217.60" x2="80.30" y2="228.60" stroke="#111" stroke-width="0.9"/>
<path d="M78.60,228.0 L80.30,231.8 L82.00,228.0 Z" fill="#111"/>
<line x1="102.80" y1="217.60" x2="102.80" y2="228.60" stroke="#111" stroke-width="0.9"/>
<path d="M101.10,228.0 L102.80,231.8 L104.50,228.0 Z" fill="#111"/>
<line x1="132.80" y1="217.60" x2="132.80" y2="228.60" stroke="#111" stroke-width="0.9"/>
<path d="M131.10,228.0 L132.80,231.8 L134.50,228.0 Z" fill="#111"/>
<line x1="159.40" y1="217.60" x2="159.40" y2="228.60" stroke="#111" stroke-width="0.9"/>
<path d="M157.70,228.0 L159.40,231.8 L161.10,228.0 Z" fill="#111"/>
<line x1="61.60" y1="325.55" x2="61.60" y2="341.10" stroke="#6cbd45" stroke-width="0.8"/>
<line x1="60.00" y1="325.55" x2="63.20" y2="325.55" stroke="#6cbd45" stroke-width="0.8"/>
<line x1="60.00" y1="341.10" x2="63.20" y2="341.10" stroke="#6cbd45" stroke-width="0.8"/>
<line x1="69.12" y1="317.34" x2="69.12" y2="327.71" stroke="#6cbd45" stroke-width="0.8"/>
<line x1="67.52" y1="317.34" x2="70.72" y2="317.34" stroke="#6cbd45" stroke-width="0.8"/>
<line x1="67.52" y1="327.71" x2="70.72" y2="327.71" stroke="#6cbd45" stroke-width="0.8"/>
<line x1="80.40" y1="298.33" x2="80.40" y2="312.16" stroke="#6cbd45" stroke-width="0.8"/>
<line x1="78.80" y1="298.33" x2="82.00" y2="298.33" stroke="#6cbd45" stroke-width="0.8"/>
<line x1="78.80" y1="312.16" x2="82.00" y2="312.16" stroke="#6cbd45" stroke-width="0.8"/>
<line x1="102.96" y1="284.51" x2="102.96" y2="294.01" stroke="#6cbd45" stroke-width="0.8"/>
<line x1="101.36" y1="284.51" x2="104.56" y2="284.51" stroke="#6cbd45" stroke-width="0.8"/>
<line x1="101.36" y1="294.01" x2="104.56" y2="294.01" stroke="#6cbd45" stroke-width="0.8"/>
<line x1="133.04" y1="256.00" x2="133.04" y2="277.60" stroke="#6cbd45" stroke-width="0.8"/>
<line x1="131.44" y1="256.00" x2="134.64" y2="256.00" stroke="#6cbd45" stroke-width="0.8"/>
<line x1="131.44" y1="277.60" x2="134.64" y2="277.60" stroke="#6cbd45" stroke-width="0.8"/>
<line x1="159.36" y1="243.90" x2="159.36" y2="256.86" stroke="#6cbd45" stroke-width="0.8"/>
<line x1="157.76" y1="243.90" x2="160.96" y2="243.90" stroke="#6cbd45" stroke-width="0.8"/>
<line x1="157.76" y1="256.86" x2="160.96" y2="256.86" stroke="#6cbd45" stroke-width="0.8"/>
<line x1="181.92" y1="247.53" x2="181.92" y2="256.17" stroke="#6cbd45" stroke-width="0.8"/>
<line x1="180.32" y1="247.53" x2="183.52" y2="247.53" stroke="#6cbd45" stroke-width="0.8"/>
<line x1="180.32" y1="256.17" x2="183.52" y2="256.17" stroke="#6cbd45" stroke-width="0.8"/>
<path d="M42.80,341.10 L61.60,333.32 L69.12,322.52 L80.40,305.24 L102.96,289.26 L133.04,266.80 L159.36,250.38 L181.92,251.85" fill="none" stroke="#6cbd45" stroke-width="1.5"/>
<path d="M40.80,339.80 L44.80,339.80 L42.80,342.90 Z" fill="#6cbd45"/>
<path d="M59.60,332.02 L63.60,332.02 L61.60,335.12 Z" fill="#6cbd45"/>
<path d="M67.12,321.22 L71.12,321.22 L69.12,324.32 Z" fill="#6cbd45"/>
<path d="M78.40,303.94 L82.40,303.94 L80.40,307.04 Z" fill="#6cbd45"/>
<path d="M100.96,287.96 L104.96,287.96 L102.96,291.06 Z" fill="#6cbd45"/>
<path d="M131.04,265.50 L135.04,265.50 L133.04,268.60 Z" fill="#6cbd45"/>
<path d="M157.36,249.08 L161.36,249.08 L159.36,252.18 Z" fill="#6cbd45"/>
<path d="M179.92,250.55 L183.92,250.55 L181.92,253.65 Z" fill="#6cbd45"/>
<line x1="61.60" y1="336.78" x2="61.60" y2="341.96" stroke="#2c4c8e" stroke-width="0.8"/>
<line x1="60.00" y1="336.78" x2="63.20" y2="336.78" stroke="#2c4c8e" stroke-width="0.8"/>
<line x1="60.00" y1="341.96" x2="63.20" y2="341.96" stroke="#2c4c8e" stroke-width="0.8"/>
<line x1="69.12" y1="330.30" x2="69.12" y2="335.48" stroke="#2c4c8e" stroke-width="0.8"/>
<line x1="67.52" y1="330.30" x2="70.72" y2="330.30" stroke="#2c4c8e" stroke-width="0.8"/>
<line x1="67.52" y1="335.48" x2="70.72" y2="335.48" stroke="#2c4c8e" stroke-width="0.8"/>
<line x1="80.40" y1="313.02" x2="80.40" y2="319.07" stroke="#2c4c8e" stroke-width="0.8"/>
<line x1="78.80" y1="313.02" x2="82.00" y2="313.02" stroke="#2c4c8e" stroke-width="0.8"/>
<line x1="78.80" y1="319.07" x2="82.00" y2="319.07" stroke="#2c4c8e" stroke-width="0.8"/>
<line x1="102.96" y1="295.31" x2="102.96" y2="302.22" stroke="#2c4c8e" stroke-width="0.8"/>
<line x1="101.36" y1="295.31" x2="104.56" y2="295.31" stroke="#2c4c8e" stroke-width="0.8"/>
<line x1="101.36" y1="302.22" x2="104.56" y2="302.22" stroke="#2c4c8e" stroke-width="0.8"/>
<line x1="133.04" y1="275.18" x2="133.04" y2="283.82" stroke="#2c4c8e" stroke-width="0.8"/>
<line x1="131.44" y1="275.18" x2="134.64" y2="275.18" stroke="#2c4c8e" stroke-width="0.8"/>
<line x1="131.44" y1="283.82" x2="134.64" y2="283.82" stroke="#2c4c8e" stroke-width="0.8"/>
<line x1="159.36" y1="257.81" x2="159.36" y2="268.18" stroke="#2c4c8e" stroke-width="0.8"/>
<line x1="157.76" y1="257.81" x2="160.96" y2="257.81" stroke="#2c4c8e" stroke-width="0.8"/>
<line x1="157.76" y1="268.18" x2="160.96" y2="268.18" stroke="#2c4c8e" stroke-width="0.8"/>
<line x1="181.92" y1="262.48" x2="181.92" y2="268.52" stroke="#2c4c8e" stroke-width="0.8"/>
<line x1="180.32" y1="262.48" x2="183.52" y2="262.48" stroke="#2c4c8e" stroke-width="0.8"/>
<line x1="180.32" y1="268.52" x2="183.52" y2="268.52" stroke="#2c4c8e" stroke-width="0.8"/>
<path d="M42.80,341.10 L61.60,339.37 L69.12,332.89 L80.40,316.04 L102.96,298.76 L133.04,279.50 L159.36,262.99 L181.92,265.50" fill="none" stroke="#2c4c8e" stroke-width="1.9"/>
<path d="M42.80,338.80 L45.00,342.60 L40.60,342.60 Z" fill="#2c4c8e"/>
<path d="M61.60,337.07 L63.80,340.87 L59.40,340.87 Z" fill="#2c4c8e"/>
<path d="M69.12,330.59 L71.32,334.39 L66.92,334.39 Z" fill="#2c4c8e"/>
<path d="M80.40,313.74 L82.60,317.54 L78.20,317.54 Z" fill="#2c4c8e"/>
<path d="M102.96,296.46 L105.16,300.26 L100.76,300.26 Z" fill="#2c4c8e"/>
<path d="M133.04,277.20 L135.24,281.00 L130.84,281.00 Z" fill="#2c4c8e"/>
<path d="M159.36,260.69 L161.56,264.49 L157.16,264.49 Z" fill="#2c4c8e"/>
<path d="M181.92,263.20 L184.12,267.00 L179.72,267.00 Z" fill="#2c4c8e"/>
<line x1="61.60" y1="335.48" x2="61.60" y2="341.53" stroke="#4c2777" stroke-width="0.8"/>
<line x1="60.00" y1="335.48" x2="63.20" y2="335.48" stroke="#4c2777" stroke-width="0.8"/>
<line x1="60.00" y1="341.53" x2="63.20" y2="341.53" stroke="#4c2777" stroke-width="0.8"/>
<line x1="69.12" y1="328.57" x2="69.12" y2="334.62" stroke="#4c2777" stroke-width="0.8"/>
<line x1="67.52" y1="328.57" x2="70.72" y2="328.57" stroke="#4c2777" stroke-width="0.8"/>
<line x1="67.52" y1="334.62" x2="70.72" y2="334.62" stroke="#4c2777" stroke-width="0.8"/>
<line x1="80.40" y1="310.86" x2="80.40" y2="318.64" stroke="#4c2777" stroke-width="0.8"/>
<line x1="78.80" y1="310.86" x2="82.00" y2="310.86" stroke="#4c2777" stroke-width="0.8"/>
<line x1="78.80" y1="318.64" x2="82.00" y2="318.64" stroke="#4c2777" stroke-width="0.8"/>
<line x1="102.96" y1="294.44" x2="102.96" y2="303.08" stroke="#4c2777" stroke-width="0.8"/>
<line x1="101.36" y1="294.44" x2="104.56" y2="294.44" stroke="#4c2777" stroke-width="0.8"/>
<line x1="101.36" y1="303.08" x2="104.56" y2="303.08" stroke="#4c2777" stroke-width="0.8"/>
<line x1="133.04" y1="275.09" x2="133.04" y2="288.91" stroke="#4c2777" stroke-width="0.8"/>
<line x1="131.44" y1="275.09" x2="134.64" y2="275.09" stroke="#4c2777" stroke-width="0.8"/>
<line x1="131.44" y1="288.91" x2="134.64" y2="288.91" stroke="#4c2777" stroke-width="0.8"/>
<line x1="159.36" y1="259.88" x2="159.36" y2="274.57" stroke="#4c2777" stroke-width="0.8"/>
<line x1="157.76" y1="259.88" x2="160.96" y2="259.88" stroke="#4c2777" stroke-width="0.8"/>
<line x1="157.76" y1="274.57" x2="160.96" y2="274.57" stroke="#4c2777" stroke-width="0.8"/>
<line x1="181.92" y1="251.68" x2="181.92" y2="278.46" stroke="#4c2777" stroke-width="0.8"/>
<line x1="180.32" y1="251.68" x2="183.52" y2="251.68" stroke="#4c2777" stroke-width="0.8"/>
<line x1="180.32" y1="278.46" x2="183.52" y2="278.46" stroke="#4c2777" stroke-width="0.8"/>
<path d="M42.80,341.10 L61.60,338.51 L69.12,331.60 L80.40,314.75 L102.96,298.76 L133.04,282.00 L159.36,267.23 L181.92,265.07" fill="none" stroke="#4c2777" stroke-width="2.1"/>
<rect x="40.90" y="339.20" width="3.8" height="3.8" fill="#4c2777"/>
<rect x="59.70" y="336.61" width="3.8" height="3.8" fill="#4c2777"/>
<rect x="67.22" y="329.70" width="3.8" height="3.8" fill="#4c2777"/>
<rect x="78.50" y="312.85" width="3.8" height="3.8" fill="#4c2777"/>
<rect x="101.06" y="296.86" width="3.8" height="3.8" fill="#4c2777"/>
<rect x="131.14" y="280.10" width="3.8" height="3.8" fill="#4c2777"/>
<rect x="157.46" y="265.33" width="3.8" height="3.8" fill="#4c2777"/>
<rect x="180.02" y="263.17" width="3.8" height="3.8" fill="#4c2777"/>
<line x1="61.60" y1="333.76" x2="61.60" y2="340.67" stroke="#b2123a" stroke-width="0.8"/>
<line x1="60.00" y1="333.76" x2="63.20" y2="333.76" stroke="#b2123a" stroke-width="0.8"/>
<line x1="60.00" y1="340.67" x2="63.20" y2="340.67" stroke="#b2123a" stroke-width="0.8"/>
<line x1="69.12" y1="319.07" x2="69.12" y2="328.57" stroke="#b2123a" stroke-width="0.8"/>
<line x1="67.52" y1="319.07" x2="70.72" y2="319.07" stroke="#b2123a" stroke-width="0.8"/>
<line x1="67.52" y1="328.57" x2="70.72" y2="328.57" stroke="#b2123a" stroke-width="0.8"/>
<line x1="80.40" y1="296.60" x2="80.40" y2="310.43" stroke="#b2123a" stroke-width="0.8"/>
<line x1="78.80" y1="296.60" x2="82.00" y2="296.60" stroke="#b2123a" stroke-width="0.8"/>
<line x1="78.80" y1="310.43" x2="82.00" y2="310.43" stroke="#b2123a" stroke-width="0.8"/>
<line x1="102.96" y1="292.89" x2="102.96" y2="304.98" stroke="#b2123a" stroke-width="0.8"/>
<line x1="101.36" y1="292.89" x2="104.56" y2="292.89" stroke="#b2123a" stroke-width="0.8"/>
<line x1="101.36" y1="304.98" x2="104.56" y2="304.98" stroke="#b2123a" stroke-width="0.8"/>
<line x1="133.04" y1="285.63" x2="133.04" y2="300.32" stroke="#b2123a" stroke-width="0.8"/>
<line x1="131.44" y1="285.63" x2="134.64" y2="285.63" stroke="#b2123a" stroke-width="0.8"/>
<line x1="131.44" y1="300.32" x2="134.64" y2="300.32" stroke="#b2123a" stroke-width="0.8"/>
<line x1="159.36" y1="286.15" x2="159.36" y2="301.70" stroke="#b2123a" stroke-width="0.8"/>
<line x1="157.76" y1="286.15" x2="160.96" y2="286.15" stroke="#b2123a" stroke-width="0.8"/>
<line x1="157.76" y1="301.70" x2="160.96" y2="301.70" stroke="#b2123a" stroke-width="0.8"/>
<line x1="181.92" y1="300.15" x2="181.92" y2="306.19" stroke="#b2123a" stroke-width="0.8"/>
<line x1="180.32" y1="300.15" x2="183.52" y2="300.15" stroke="#b2123a" stroke-width="0.8"/>
<line x1="180.32" y1="306.19" x2="183.52" y2="306.19" stroke="#b2123a" stroke-width="0.8"/>
<path d="M42.80,341.10 L61.60,337.21 L69.12,323.82 L80.40,303.52 L102.96,298.94 L133.04,292.98 L159.36,293.93 L181.92,303.17" fill="none" stroke="#b2123a" stroke-width="1.5" stroke-dasharray="3.6,2.2"/>
<circle cx="42.80" cy="341.10" r="2.0" fill="#b2123a"/>
<circle cx="61.60" cy="337.21" r="2.0" fill="#b2123a"/>
<circle cx="69.12" cy="323.82" r="2.0" fill="#b2123a"/>
<circle cx="80.40" cy="303.52" r="2.0" fill="#b2123a"/>
<circle cx="102.96" cy="298.94" r="2.0" fill="#b2123a"/>
<circle cx="133.04" cy="292.98" r="2.0" fill="#b2123a"/>
<circle cx="159.36" cy="293.93" r="2.0" fill="#b2123a"/>
<circle cx="181.92" cy="303.17" r="2.0" fill="#b2123a"/>
<line x1="204.80" y1="252.50" x2="213.80" y2="252.50" stroke="#b2123a" stroke-width="1.4"/>
<circle cx="209.3" cy="252.5" r="1.6" fill="#b2123a"/>
<text x="216.80" y="255.30" font-size="8.0" stroke="#231f20" stroke-width="0.08" textLength="14.8" lengthAdjust="spacingAndGlyphs">UTD</text>
<line x1="204.80" y1="262.60" x2="213.80" y2="262.60" stroke="#4c2777" stroke-width="1.4"/>
<rect x="207.60000000000002" y="260.90000000000003" width="3.4" height="3.4" fill="#4c2777"/>
<text x="216.80" y="265.40" font-size="8.0" stroke="#231f20" stroke-width="0.08" textLength="39.0" lengthAdjust="spacingAndGlyphs">CAR-37 L-H</text>
<line x1="204.80" y1="272.60" x2="213.80" y2="272.60" stroke="#2c4c8e" stroke-width="1.4"/>
<path d="M209.3,270.60 L211.20,273.90 L207.40,273.90 Z" fill="#2c4c8e"/>
<text x="216.80" y="275.40" font-size="8.0" stroke="#231f20" stroke-width="0.08" textLength="39.0" lengthAdjust="spacingAndGlyphs">CAR-37 H-L</text>
<line x1="204.80" y1="282.40" x2="213.80" y2="282.40" stroke="#6cbd45" stroke-width="1.4"/>
<path d="M207.50,281.30 L211.10,281.30 L209.30,284.00 Z" fill="#6cbd45"/>
<text x="216.80" y="285.20" font-size="8.0" stroke="#231f20" stroke-width="0.08" textLength="25.0" lengthAdjust="spacingAndGlyphs">CAR-19</text>
<text x="278.00" y="232.70" font-size="12.2" stroke="#231f20" stroke-width="0.08" textLength="5.8" lengthAdjust="spacingAndGlyphs" style="stroke-width:0.3px">E</text>
<line x1="306.40" y1="244.00" x2="306.40" y2="332.90" stroke="#111" stroke-width="1.2"/>
<line x1="305.80" y1="332.30" x2="439.80" y2="332.30" stroke="#111" stroke-width="1.2"/>
<line x1="303.00" y1="332.30" x2="306.40" y2="332.30" stroke="#111" stroke-width="1.0"/>
<text x="300.30" y="335.30" font-size="8.2" text-anchor="end" stroke="#231f20" stroke-width="0.08" textLength="4.1" lengthAdjust="spacingAndGlyphs">0</text>
<line x1="303.00" y1="303.85" x2="306.40" y2="303.85" stroke="#111" stroke-width="1.0"/>
<text x="300.30" y="306.85" font-size="8.2" text-anchor="end" stroke="#231f20" stroke-width="0.08" textLength="4.1" lengthAdjust="spacingAndGlyphs">1</text>
<line x1="303.00" y1="275.40" x2="306.40" y2="275.40" stroke="#111" stroke-width="1.0"/>
<text x="300.30" y="278.40" font-size="8.2" text-anchor="end" stroke="#231f20" stroke-width="0.08" textLength="4.1" lengthAdjust="spacingAndGlyphs">2</text>
<line x1="303.00" y1="246.95" x2="306.40" y2="246.95" stroke="#111" stroke-width="1.0"/>
<text x="300.30" y="249.95" font-size="8.2" text-anchor="end" stroke="#231f20" stroke-width="0.08" textLength="4.1" lengthAdjust="spacingAndGlyphs">3</text>
<text x="285.00" y="288.30" font-size="9.8" text-anchor="middle" stroke="#231f20" stroke-width="0.08" textLength="76.6" lengthAdjust="spacingAndGlyphs" transform="rotate(-90 285.00 288.30)">Relative activation</text>
<rect x="309.20" y="304.42" width="4.60" height="27.88" fill="#ae0c2d"/>
<rect x="313.80" y="303.85" width="4.60" height="28.45" fill="#5a2a6b"/>
<rect x="318.40" y="303.85" width="4.60" height="28.45" fill="#2f4e86"/>
<rect x="323.00" y="303.85" width="4.60" height="28.45" fill="#69ad43"/>
<line x1="318.40" y1="332.30" x2="318.40" y2="334.90" stroke="#231f20" stroke-width="0.9"/>
<text x="321.80" y="341.70" font-size="7.8" text-anchor="end" stroke="#231f20" stroke-width="0.08" transform="rotate(-45 321.80 341.70)">CD3-CD28 beads</text>
<rect x="331.00" y="331.70" width="4.60" height="0.60" fill="#ae0c2d"/>
<line x1="337.90" y1="271.13" x2="337.90" y2="277.68" stroke="#222" stroke-width="0.8"/>
<line x1="336.80" y1="271.13" x2="339.00" y2="271.13" stroke="#222" stroke-width="0.8"/>
<rect x="335.60" y="277.68" width="4.60" height="54.62" fill="#5a2a6b"/>
<line x1="342.50" y1="292.19" x2="342.50" y2="295.31" stroke="#222" stroke-width="0.8"/>
<line x1="341.40" y1="292.19" x2="343.60" y2="292.19" stroke="#222" stroke-width="0.8"/>
<rect x="340.20" y="295.31" width="4.60" height="36.98" fill="#2f4e86"/>
<line x1="347.10" y1="264.87" x2="347.10" y2="269.71" stroke="#222" stroke-width="0.8"/>
<line x1="346.00" y1="264.87" x2="348.20" y2="264.87" stroke="#222" stroke-width="0.8"/>
<rect x="344.80" y="269.71" width="4.60" height="62.59" fill="#69ad43"/>
<line x1="340.20" y1="332.30" x2="340.20" y2="334.90" stroke="#231f20" stroke-width="0.9"/>
<text x="343.60" y="341.70" font-size="7.8" text-anchor="end" stroke="#231f20" stroke-width="0.08" transform="rotate(-45 343.60 341.70)">OSU-CLL</text>
<rect x="352.80" y="331.70" width="4.60" height="0.60" fill="#ae0c2d"/>
<line x1="359.70" y1="261.18" x2="359.70" y2="269.14" stroke="#222" stroke-width="0.8"/>
<line x1="358.60" y1="261.18" x2="360.80" y2="261.18" stroke="#222" stroke-width="0.8"/>
<rect x="357.40" y="269.14" width="4.60" height="63.16" fill="#5a2a6b"/>
<line x1="364.30" y1="288.20" x2="364.30" y2="290.48" stroke="#222" stroke-width="0.8"/>
<line x1="363.20" y1="288.20" x2="365.40" y2="288.20" stroke="#222" stroke-width="0.8"/>
<rect x="362.00" y="290.48" width="4.60" height="41.82" fill="#2f4e86"/>
<line x1="368.90" y1="248.37" x2="368.90" y2="252.64" stroke="#222" stroke-width="0.8"/>
<line x1="367.80" y1="248.37" x2="370.00" y2="248.37" stroke="#222" stroke-width="0.8"/>
<rect x="366.60" y="252.64" width="4.60" height="79.66" fill="#69ad43"/>
<line x1="362.00" y1="332.30" x2="362.00" y2="334.90" stroke="#231f20" stroke-width="0.9"/>
<text x="365.40" y="341.70" font-size="7.8" text-anchor="end" stroke="#231f20" stroke-width="0.08" transform="rotate(-45 365.40 341.70)">RAJI</text>
<rect x="374.60" y="331.70" width="4.60" height="0.60" fill="#ae0c2d"/>
<line x1="381.50" y1="310.39" x2="381.50" y2="311.25" stroke="#222" stroke-width="0.8"/>
<line x1="380.40" y1="310.39" x2="382.60" y2="310.39" stroke="#222" stroke-width="0.8"/>
<rect x="379.20" y="311.25" width="4.60" height="21.05" fill="#5a2a6b"/>
<line x1="386.10" y1="312.10" x2="386.10" y2="312.67" stroke="#222" stroke-width="0.8"/>
<line x1="385.00" y1="312.10" x2="387.20" y2="312.10" stroke="#222" stroke-width="0.8"/>
<rect x="383.80" y="312.67" width="4.60" height="19.63" fill="#2f4e86"/>
<line x1="390.70" y1="310.39" x2="390.70" y2="317.22" stroke="#222" stroke-width="0.8"/>
<line x1="389.60" y1="310.39" x2="391.80" y2="310.39" stroke="#222" stroke-width="0.8"/>
<rect x="388.40" y="317.22" width="4.60" height="15.08" fill="#69ad43"/>
<line x1="383.80" y1="332.30" x2="383.80" y2="334.90" stroke="#231f20" stroke-width="0.9"/>
<text x="387.20" y="341.70" font-size="7.8" text-anchor="end" stroke="#231f20" stroke-width="0.08" transform="rotate(-45 387.20 341.70)">JEKO-1</text>
<line x1="405.60" y1="332.30" x2="405.60" y2="334.90" stroke="#231f20" stroke-width="0.9"/>
<text x="409.00" y="341.70" font-size="7.8" text-anchor="end" stroke="#231f20" stroke-width="0.08" transform="rotate(-45 409.00 341.70)">medium</text>
<line x1="434.30" y1="295.60" x2="434.30" y2="299.30" stroke="#222" stroke-width="0.8"/>
<line x1="433.20" y1="295.60" x2="435.40" y2="295.60" stroke="#222" stroke-width="0.8"/>
<rect x="432.00" y="299.30" width="4.60" height="33.00" fill="#69ad43"/>
<line x1="427.40" y1="332.30" x2="427.40" y2="334.90" stroke="#231f20" stroke-width="0.9"/>
<text x="430.80" y="341.70" font-size="7.8" text-anchor="end" stroke="#231f20" stroke-width="0.08" transform="rotate(-45 430.80 341.70)">NALM6</text>
<rect x="439.80" y="249.50" width="7.00" height="5.20" fill="#ae0c2d"/>
<text x="450.00" y="254.90" font-size="8.0" stroke="#231f20" stroke-width="0.08" textLength="14.8" lengthAdjust="spacingAndGlyphs">UTD</text>
<rect x="439.80" y="261.10" width="7.00" height="5.20" fill="#5a2a6b"/>
<text x="450.00" y="266.50" font-size="8.0" stroke="#231f20" stroke-width="0.08" textLength="39.0" lengthAdjust="spacingAndGlyphs">CAR-37 L-H</text>
<rect x="439.80" y="272.90" width="7.00" height="5.20" fill="#2f4e86"/>
<text x="450.00" y="278.30" font-size="8.0" stroke="#231f20" stroke-width="0.08" textLength="39.0" lengthAdjust="spacingAndGlyphs">CAR-37 H-L</text>
<rect x="439.80" y="285.80" width="7.00" height="5.20" fill="#69ad43"/>
<text x="450.00" y="291.20" font-size="8.0" stroke="#231f20" stroke-width="0.08" textLength="25.0" lengthAdjust="spacingAndGlyphs">CAR-19</text>
<text x="11.50" y="405.90" font-size="12.2" stroke="#231f20" stroke-width="0.08" textLength="5.0" lengthAdjust="spacingAndGlyphs" style="stroke-width:0.3px">F</text>
<line x1="48.50" y1="427.80" x2="48.50" y2="503.05" stroke="#111" stroke-width="1.2"/>
<line x1="47.90" y1="502.45" x2="160.00" y2="502.45" stroke="#111" stroke-width="1.2"/>
<line x1="45.90" y1="502.45" x2="48.50" y2="502.45" stroke="#231f20" stroke-width="0.9"/>
<text x="43.30" y="505.35" font-size="8.0" text-anchor="end" stroke="#231f20" stroke-width="0.08" textLength="4.2" lengthAdjust="spacingAndGlyphs">0</text>
<line x1="45.90" y1="484.29" x2="48.50" y2="484.29" stroke="#231f20" stroke-width="0.9"/>
<text x="43.30" y="487.19" font-size="8.0" text-anchor="end" stroke="#231f20" stroke-width="0.08" textLength="16.6" lengthAdjust="spacingAndGlyphs">3000</text>
<line x1="45.90" y1="466.13" x2="48.50" y2="466.13" stroke="#231f20" stroke-width="0.9"/>
<text x="43.30" y="469.03" font-size="8.0" text-anchor="end" stroke="#231f20" stroke-width="0.08" textLength="16.6" lengthAdjust="spacingAndGlyphs">6000</text>
<line x1="45.90" y1="447.97" x2="48.50" y2="447.97" stroke="#231f20" stroke-width="0.9"/>
<text x="43.30" y="450.87" font-size="8.0" text-anchor="end" stroke="#231f20" stroke-width="0.08" textLength="16.6" lengthAdjust="spacingAndGlyphs">9000</text>
<line x1="45.90" y1="429.81" x2="48.50" y2="429.81" stroke="#231f20" stroke-width="0.9"/>
<text x="43.30" y="432.71" font-size="8.0" text-anchor="end" stroke="#231f20" stroke-width="0.08" textLength="20.4" lengthAdjust="spacingAndGlyphs">12000</text>
<rect x="50.20" y="460.28" width="2.30" height="42.17" fill="#b0112f"/>
<line x1="51.35" y1="456.14" x2="51.35" y2="460.28" stroke="#1a1a1a" stroke-width="0.7"/>
<line x1="50.30" y1="456.14" x2="52.40" y2="456.14" stroke="#1a1a1a" stroke-width="0.8"/>
<rect x="53.60" y="471.69" width="2.30" height="30.76" fill="#1f3f7d"/>
<line x1="54.75" y1="470.67" x2="54.75" y2="471.69" stroke="#1a1a1a" stroke-width="0.7"/>
<line x1="53.70" y1="470.67" x2="55.80" y2="470.67" stroke="#1a1a1a" stroke-width="0.8"/>
<rect x="57.00" y="466.33" width="2.30" height="36.12" fill="#5fa93b"/>
<line x1="58.15" y1="465.52" x2="58.15" y2="466.33" stroke="#1a1a1a" stroke-width="0.7"/>
<line x1="57.10" y1="465.52" x2="59.20" y2="465.52" stroke="#1a1a1a" stroke-width="0.8"/>
<rect x="60.40" y="450.65" width="2.30" height="51.80" fill="#cac8ce"/>
<line x1="56.20" y1="502.45" x2="56.20" y2="504.95" stroke="#231f20" stroke-width="0.9"/>
<rect x="66.20" y="453.13" width="2.30" height="49.32" fill="#b0112f"/>
<line x1="67.35" y1="451.90" x2="67.35" y2="453.13" stroke="#1a1a1a" stroke-width="0.7"/>
<line x1="66.30" y1="451.90" x2="68.40" y2="451.90" stroke="#1a1a1a" stroke-width="0.8"/>
<rect x="69.60" y="464.05" width="2.30" height="38.40" fill="#1f3f7d"/>
<line x1="70.75" y1="463.10" x2="70.75" y2="464.05" stroke="#1a1a1a" stroke-width="0.7"/>
<line x1="69.70" y1="463.10" x2="71.80" y2="463.10" stroke="#1a1a1a" stroke-width="0.8"/>
<rect x="73.00" y="457.50" width="2.30" height="44.95" fill="#5fa93b"/>
<line x1="74.15" y1="456.75" x2="74.15" y2="457.50" stroke="#1a1a1a" stroke-width="0.7"/>
<line x1="73.10" y1="456.75" x2="75.20" y2="456.75" stroke="#1a1a1a" stroke-width="0.8"/>
<rect x="76.40" y="446.09" width="2.30" height="56.36" fill="#cac8ce"/>
<line x1="72.20" y1="502.45" x2="72.20" y2="504.95" stroke="#231f20" stroke-width="0.9"/>
<rect x="82.20" y="453.13" width="2.30" height="49.32" fill="#b0112f"/>
<line x1="83.35" y1="451.90" x2="83.35" y2="453.13" stroke="#1a1a1a" stroke-width="0.7"/>
<line x1="82.30" y1="451.90" x2="84.40" y2="451.90" stroke="#1a1a1a" stroke-width="0.8"/>
<rect x="85.60" y="460.57" width="2.30" height="41.88" fill="#1f3f7d"/>
<line x1="86.75" y1="459.77" x2="86.75" y2="460.57" stroke="#1a1a1a" stroke-width="0.7"/>
<line x1="85.70" y1="459.77" x2="87.80" y2="459.77" stroke="#1a1a1a" stroke-width="0.8"/>
<rect x="89.00" y="454.02" width="2.30" height="48.43" fill="#5fa93b"/>
<line x1="90.15" y1="453.42" x2="90.15" y2="454.02" stroke="#1a1a1a" stroke-width="0.7"/>
<line x1="89.10" y1="453.42" x2="91.20" y2="453.42" stroke="#1a1a1a" stroke-width="0.8"/>
<rect x="92.40" y="448.37" width="2.30" height="54.08" fill="#cac8ce"/>
<line x1="88.20" y1="502.45" x2="88.20" y2="504.95" stroke="#231f20" stroke-width="0.9"/>
<rect x="98.20" y="455.31" width="2.30" height="47.14" fill="#b0112f"/>
<line x1="99.35" y1="454.02" x2="99.35" y2="455.31" stroke="#1a1a1a" stroke-width="0.7"/>
<line x1="98.30" y1="454.02" x2="100.40" y2="454.02" stroke="#1a1a1a" stroke-width="0.8"/>
<rect x="101.60" y="458.88" width="2.30" height="43.57" fill="#1f3f7d"/>
<line x1="102.75" y1="457.96" x2="102.75" y2="458.88" stroke="#1a1a1a" stroke-width="0.7"/>
<line x1="101.70" y1="457.96" x2="103.80" y2="457.96" stroke="#1a1a1a" stroke-width="0.8"/>
<rect x="105.00" y="455.71" width="2.30" height="46.74" fill="#5fa93b"/>
<line x1="106.15" y1="454.93" x2="106.15" y2="455.71" stroke="#1a1a1a" stroke-width="0.7"/>
<line x1="105.10" y1="454.93" x2="107.20" y2="454.93" stroke="#1a1a1a" stroke-width="0.8"/>
<rect x="108.40" y="447.07" width="2.30" height="55.38" fill="#cac8ce"/>
<line x1="104.20" y1="502.45" x2="104.20" y2="504.95" stroke="#231f20" stroke-width="0.9"/>
<rect x="114.20" y="452.63" width="2.30" height="49.82" fill="#b0112f"/>
<line x1="115.35" y1="451.00" x2="115.35" y2="452.63" stroke="#1a1a1a" stroke-width="0.7"/>
<line x1="114.30" y1="451.00" x2="116.40" y2="451.00" stroke="#1a1a1a" stroke-width="0.8"/>
<rect x="117.60" y="454.02" width="2.30" height="48.43" fill="#1f3f7d"/>
<line x1="118.75" y1="453.42" x2="118.75" y2="454.02" stroke="#1a1a1a" stroke-width="0.7"/>
<line x1="117.70" y1="453.42" x2="119.80" y2="453.42" stroke="#1a1a1a" stroke-width="0.8"/>
<rect x="121.00" y="450.25" width="2.30" height="52.20" fill="#5fa93b"/>
<line x1="122.15" y1="449.48" x2="122.15" y2="450.25" stroke="#1a1a1a" stroke-width="0.7"/>
<line x1="121.10" y1="449.48" x2="123.20" y2="449.48" stroke="#1a1a1a" stroke-width="0.8"/>
<rect x="124.40" y="448.27" width="2.30" height="54.18" fill="#cac8ce"/>
<line x1="120.20" y1="502.45" x2="120.20" y2="504.95" stroke="#231f20" stroke-width="0.9"/>
<rect x="130.20" y="449.56" width="2.30" height="52.89" fill="#b0112f"/>
<line x1="131.35" y1="447.36" x2="131.35" y2="449.56" stroke="#1a1a1a" stroke-width="0.7"/>
<line x1="130.30" y1="447.36" x2="132.40" y2="447.36" stroke="#1a1a1a" stroke-width="0.8"/>
<rect x="133.60" y="451.74" width="2.30" height="50.71" fill="#1f3f7d"/>
<line x1="134.75" y1="451.00" x2="134.75" y2="451.74" stroke="#1a1a1a" stroke-width="0.7"/>
<line x1="133.70" y1="451.00" x2="135.80" y2="451.00" stroke="#1a1a1a" stroke-width="0.8"/>
<rect x="137.00" y="448.27" width="2.30" height="54.18" fill="#5fa93b"/>
<line x1="138.15" y1="447.67" x2="138.15" y2="448.27" stroke="#1a1a1a" stroke-width="0.7"/>
<line x1="137.10" y1="447.67" x2="139.20" y2="447.67" stroke="#1a1a1a" stroke-width="0.8"/>
<rect x="140.40" y="448.27" width="2.30" height="54.18" fill="#cac8ce"/>
<line x1="136.20" y1="502.45" x2="136.20" y2="504.95" stroke="#231f20" stroke-width="0.9"/>
<rect x="146.20" y="447.67" width="2.30" height="54.78" fill="#b0112f"/>
<line x1="147.35" y1="446.15" x2="147.35" y2="447.67" stroke="#1a1a1a" stroke-width="0.7"/>
<line x1="146.30" y1="446.15" x2="148.40" y2="446.15" stroke="#1a1a1a" stroke-width="0.8"/>
<rect x="149.60" y="451.34" width="2.30" height="51.11" fill="#1f3f7d"/>
<line x1="150.75" y1="450.39" x2="150.75" y2="451.34" stroke="#1a1a1a" stroke-width="0.7"/>
<line x1="149.70" y1="450.39" x2="151.80" y2="450.39" stroke="#1a1a1a" stroke-width="0.8"/>
<rect x="153.00" y="446.68" width="2.30" height="55.77" fill="#5fa93b"/>
<line x1="154.15" y1="445.25" x2="154.15" y2="446.68" stroke="#1a1a1a" stroke-width="0.7"/>
<line x1="153.10" y1="445.25" x2="155.20" y2="445.25" stroke="#1a1a1a" stroke-width="0.8"/>
<rect x="156.40" y="449.76" width="2.30" height="52.69" fill="#cac8ce"/>
<line x1="152.20" y1="502.45" x2="152.20" y2="504.95" stroke="#231f20" stroke-width="0.9"/>
<text x="60.80" y="513.45" font-size="7.25" text-anchor="end" stroke="#231f20" stroke-width="0.08" transform="rotate(-45 60.80 513.45)">10:1</text>
<text x="76.80" y="513.45" font-size="7.25" text-anchor="end" stroke="#231f20" stroke-width="0.08" transform="rotate(-45 76.80 513.45)">5:1</text>
<text x="92.80" y="513.45" font-size="7.25" text-anchor="end" stroke="#231f20" stroke-width="0.08" transform="rotate(-45 92.80 513.45)">2.5:1</text>
<text x="108.80" y="513.45" font-size="7.25" text-anchor="end" stroke="#231f20" stroke-width="0.08" transform="rotate(-45 108.80 513.45)">1.25:1</text>
<text x="124.80" y="513.45" font-size="7.25" text-anchor="end" stroke="#231f20" stroke-width="0.08" transform="rotate(-45 124.80 513.45)">0.625:1</text>
<text x="140.80" y="513.45" font-size="7.25" text-anchor="end" stroke="#231f20" stroke-width="0.08" transform="rotate(-45 140.80 513.45)">0.3125:1</text>
<text x="156.80" y="513.45" font-size="7.25" text-anchor="end" stroke="#231f20" stroke-width="0.08" transform="rotate(-45 156.80 513.45)">0.156:1</text>
<text x="101.80" y="422.80" font-size="8.0" text-anchor="middle" stroke="#231f20" stroke-width="0.08" textLength="96.0" lengthAdjust="spacingAndGlyphs">Target: non activated T cells</text>
<text x="16.80" y="464.80" font-size="9.8" text-anchor="middle" stroke="#231f20" stroke-width="0.08" textLength="25.5" lengthAdjust="spacingAndGlyphs" transform="rotate(-90 16.80 464.80)">Count</text>
<text x="104.70" y="547.00" font-size="9.8" text-anchor="middle" stroke="#231f20" stroke-width="0.08" textLength="11.9" lengthAdjust="spacingAndGlyphs">E:T</text>
<rect x="28.80" y="407.30" width="6.60" height="4.60" fill="#b0112f"/>
<text x="39.40" y="412.30" font-size="8.0" stroke="#231f20" stroke-width="0.08" textLength="14.6" lengthAdjust="spacingAndGlyphs">UTD</text>
<rect x="58.90" y="407.30" width="6.60" height="4.60" fill="#1f3f7d"/>
<text x="69.20" y="412.30" font-size="8.0" stroke="#231f20" stroke-width="0.08" textLength="26.0" lengthAdjust="spacingAndGlyphs">CAR-37</text>
<rect x="100.20" y="407.30" width="6.60" height="4.60" fill="#5fa93b"/>
<text x="111.80" y="412.30" font-size="8.0" stroke="#231f20" stroke-width="0.08" textLength="25.2" lengthAdjust="spacingAndGlyphs">CAR-19</text>
<rect x="141.80" y="407.30" width="6.60" height="4.60" fill="#cac8ce"/>
<text x="153.00" y="412.30" font-size="8.0" stroke="#231f20" stroke-width="0.08" textLength="38.2" lengthAdjust="spacingAndGlyphs">target only</text>
<text x="200.40" y="406.50" font-size="12.2" stroke="#231f20" stroke-width="0.08" textLength="7.2" lengthAdjust="spacingAndGlyphs" style="stroke-width:0.3px">G</text>
<line x1="242.50" y1="426.40" x2="242.50" y2="503.05" stroke="#111" stroke-width="1.2"/>
<line x1="241.90" y1="502.45" x2="352.50" y2="502.45" stroke="#111" stroke-width="1.2"/>
<line x1="239.90" y1="502.45" x2="242.50" y2="502.45" stroke="#231f20" stroke-width="0.9"/>
<text x="236.80" y="505.35" font-size="8.0" text-anchor="end" stroke="#231f20" stroke-width="0.08" textLength="4.2" lengthAdjust="spacingAndGlyphs">0</text>
<line x1="239.90" y1="487.90" x2="242.50" y2="487.90" stroke="#231f20" stroke-width="0.9"/>
<text x="236.80" y="490.80" font-size="8.0" text-anchor="end" stroke="#231f20" stroke-width="0.08" textLength="16.6" lengthAdjust="spacingAndGlyphs">3000</text>
<line x1="239.90" y1="473.35" x2="242.50" y2="473.35" stroke="#231f20" stroke-width="0.9"/>
<text x="236.80" y="476.25" font-size="8.0" text-anchor="end" stroke="#231f20" stroke-width="0.08" textLength="16.6" lengthAdjust="spacingAndGlyphs">6000</text>
<line x1="239.90" y1="458.80" x2="242.50" y2="458.80" stroke="#231f20" stroke-width="0.9"/>
<text x="236.80" y="461.70" font-size="8.0" text-anchor="end" stroke="#231f20" stroke-width="0.08" textLength="16.6" lengthAdjust="spacingAndGlyphs">9000</text>
<line x1="239.90" y1="444.25" x2="242.50" y2="444.25" stroke="#231f20" stroke-width="0.9"/>
<text x="236.80" y="447.15" font-size="8.0" text-anchor="end" stroke="#231f20" stroke-width="0.08" textLength="20.4" lengthAdjust="spacingAndGlyphs">12000</text>
<line x1="239.90" y1="429.70" x2="242.50" y2="429.70" stroke="#231f20" stroke-width="0.9"/>
<text x="236.80" y="432.60" font-size="8.0" text-anchor="end" stroke="#231f20" stroke-width="0.08" textLength="20.4" lengthAdjust="spacingAndGlyphs">15000</text>
<rect x="244.00" y="467.33" width="2.30" height="35.12" fill="#b0112f"/>
<line x1="245.15" y1="466.56" x2="245.15" y2="467.33" stroke="#1a1a1a" stroke-width="0.7"/>
<line x1="244.10" y1="466.56" x2="246.20" y2="466.56" stroke="#1a1a1a" stroke-width="0.8"/>
<rect x="247.40" y="470.63" width="2.30" height="31.82" fill="#1f3f7d"/>
<line x1="248.55" y1="469.95" x2="248.55" y2="470.63" stroke="#1a1a1a" stroke-width="0.7"/>
<line x1="247.50" y1="469.95" x2="249.60" y2="469.95" stroke="#1a1a1a" stroke-width="0.8"/>
<rect x="250.80" y="469.32" width="2.30" height="33.13" fill="#5fa93b"/>
<line x1="251.95" y1="468.01" x2="251.95" y2="469.32" stroke="#1a1a1a" stroke-width="0.7"/>
<line x1="250.90" y1="468.01" x2="253.00" y2="468.01" stroke="#1a1a1a" stroke-width="0.8"/>
<rect x="254.20" y="442.55" width="2.30" height="59.90" fill="#cac8ce"/>
<line x1="250.00" y1="502.45" x2="250.00" y2="504.95" stroke="#231f20" stroke-width="0.9"/>
<rect x="260.37" y="463.02" width="2.30" height="39.43" fill="#b0112f"/>
<line x1="261.52" y1="462.19" x2="261.52" y2="463.02" stroke="#1a1a1a" stroke-width="0.7"/>
<line x1="260.47" y1="462.19" x2="262.57" y2="462.19" stroke="#1a1a1a" stroke-width="0.8"/>
<rect x="263.77" y="463.65" width="2.30" height="38.80" fill="#1f3f7d"/>
<line x1="264.92" y1="462.92" x2="264.92" y2="463.65" stroke="#1a1a1a" stroke-width="0.7"/>
<line x1="263.87" y1="462.92" x2="265.97" y2="462.92" stroke="#1a1a1a" stroke-width="0.8"/>
<rect x="267.17" y="464.52" width="2.30" height="37.93" fill="#5fa93b"/>
<line x1="268.32" y1="463.89" x2="268.32" y2="464.52" stroke="#1a1a1a" stroke-width="0.7"/>
<line x1="267.27" y1="463.89" x2="269.37" y2="463.89" stroke="#1a1a1a" stroke-width="0.8"/>
<rect x="270.57" y="444.15" width="2.30" height="58.30" fill="#cac8ce"/>
<line x1="266.37" y1="502.45" x2="266.37" y2="504.95" stroke="#231f20" stroke-width="0.9"/>
<rect x="276.74" y="456.71" width="2.30" height="45.74" fill="#b0112f"/>
<line x1="277.89" y1="456.13" x2="277.89" y2="456.71" stroke="#1a1a1a" stroke-width="0.7"/>
<line x1="276.84" y1="456.13" x2="278.94" y2="456.13" stroke="#1a1a1a" stroke-width="0.8"/>
<rect x="280.14" y="456.08" width="2.30" height="46.37" fill="#1f3f7d"/>
<line x1="281.29" y1="454.19" x2="281.29" y2="456.08" stroke="#1a1a1a" stroke-width="0.7"/>
<line x1="280.24" y1="454.19" x2="282.34" y2="454.19" stroke="#1a1a1a" stroke-width="0.8"/>
<rect x="283.54" y="458.70" width="2.30" height="43.75" fill="#5fa93b"/>
<line x1="284.69" y1="458.07" x2="284.69" y2="458.70" stroke="#1a1a1a" stroke-width="0.7"/>
<line x1="283.64" y1="458.07" x2="285.74" y2="458.07" stroke="#1a1a1a" stroke-width="0.8"/>
<rect x="286.94" y="442.36" width="2.30" height="60.09" fill="#cac8ce"/>
<line x1="282.74" y1="502.45" x2="282.74" y2="504.95" stroke="#231f20" stroke-width="0.9"/>
<rect x="293.11" y="455.99" width="2.30" height="46.46" fill="#b0112f"/>
<line x1="294.26" y1="455.16" x2="294.26" y2="455.99" stroke="#1a1a1a" stroke-width="0.7"/>
<line x1="293.21" y1="455.16" x2="295.31" y2="455.16" stroke="#1a1a1a" stroke-width="0.8"/>
<rect x="296.51" y="451.48" width="2.30" height="50.97" fill="#1f3f7d"/>
<line x1="297.66" y1="449.83" x2="297.66" y2="451.48" stroke="#1a1a1a" stroke-width="0.7"/>
<line x1="296.61" y1="449.83" x2="298.71" y2="449.83" stroke="#1a1a1a" stroke-width="0.8"/>
<rect x="299.91" y="453.90" width="2.30" height="48.55" fill="#5fa93b"/>
<line x1="301.06" y1="453.22" x2="301.06" y2="453.90" stroke="#1a1a1a" stroke-width="0.7"/>
<line x1="300.01" y1="453.22" x2="302.11" y2="453.22" stroke="#1a1a1a" stroke-width="0.8"/>
<rect x="303.31" y="443.33" width="2.30" height="59.12" fill="#cac8ce"/>
<line x1="299.11" y1="502.45" x2="299.11" y2="504.95" stroke="#231f20" stroke-width="0.9"/>
<rect x="309.48" y="447.84" width="2.30" height="54.61" fill="#b0112f"/>
<line x1="310.63" y1="447.16" x2="310.63" y2="447.84" stroke="#1a1a1a" stroke-width="0.7"/>
<line x1="309.58" y1="447.16" x2="311.68" y2="447.16" stroke="#1a1a1a" stroke-width="0.8"/>
<rect x="312.88" y="448.76" width="2.30" height="53.69" fill="#1f3f7d"/>
<line x1="314.03" y1="448.13" x2="314.03" y2="448.76" stroke="#1a1a1a" stroke-width="0.7"/>
<line x1="312.98" y1="448.13" x2="315.08" y2="448.13" stroke="#1a1a1a" stroke-width="0.8"/>
<rect x="316.28" y="452.59" width="2.30" height="49.86" fill="#5fa93b"/>
<line x1="317.43" y1="451.28" x2="317.43" y2="452.59" stroke="#1a1a1a" stroke-width="0.7"/>
<line x1="316.38" y1="451.28" x2="318.48" y2="451.28" stroke="#1a1a1a" stroke-width="0.8"/>
<rect x="319.68" y="444.25" width="2.30" height="58.20" fill="#cac8ce"/>
<line x1="315.48" y1="502.45" x2="315.48" y2="504.95" stroke="#231f20" stroke-width="0.9"/>
<rect x="325.85" y="451.28" width="2.30" height="51.17" fill="#b0112f"/>
<line x1="327.00" y1="446.43" x2="327.00" y2="451.28" stroke="#1a1a1a" stroke-width="0.7"/>
<line x1="325.95" y1="446.43" x2="328.05" y2="446.43" stroke="#1a1a1a" stroke-width="0.8"/>
<rect x="329.25" y="448.28" width="2.30" height="54.17" fill="#1f3f7d"/>
<line x1="330.40" y1="446.19" x2="330.40" y2="448.28" stroke="#1a1a1a" stroke-width="0.7"/>
<line x1="329.35" y1="446.19" x2="331.45" y2="446.19" stroke="#1a1a1a" stroke-width="0.8"/>
<rect x="332.65" y="455.31" width="2.30" height="47.14" fill="#5fa93b"/>
<line x1="333.80" y1="447.40" x2="333.80" y2="455.31" stroke="#1a1a1a" stroke-width="0.7"/>
<line x1="332.75" y1="447.40" x2="334.85" y2="447.40" stroke="#1a1a1a" stroke-width="0.8"/>
<rect x="336.05" y="442.46" width="2.30" height="59.99" fill="#cac8ce"/>
<line x1="331.85" y1="502.45" x2="331.85" y2="504.95" stroke="#231f20" stroke-width="0.9"/>
<rect x="342.22" y="450.17" width="2.30" height="52.28" fill="#b0112f"/>
<line x1="343.37" y1="449.10" x2="343.37" y2="450.17" stroke="#1a1a1a" stroke-width="0.7"/>
<line x1="342.32" y1="449.10" x2="344.42" y2="449.10" stroke="#1a1a1a" stroke-width="0.8"/>
<rect x="345.62" y="453.66" width="2.30" height="48.79" fill="#1f3f7d"/>
<line x1="346.77" y1="449.34" x2="346.77" y2="453.66" stroke="#1a1a1a" stroke-width="0.7"/>
<line x1="345.72" y1="449.34" x2="347.82" y2="449.34" stroke="#1a1a1a" stroke-width="0.8"/>
<rect x="349.02" y="451.48" width="2.30" height="50.97" fill="#5fa93b"/>
<line x1="350.17" y1="450.56" x2="350.17" y2="451.48" stroke="#1a1a1a" stroke-width="0.7"/>
<line x1="349.12" y1="450.56" x2="351.22" y2="450.56" stroke="#1a1a1a" stroke-width="0.8"/>
<rect x="352.42" y="441.78" width="2.30" height="60.67" fill="#cac8ce"/>
<line x1="348.22" y1="502.45" x2="348.22" y2="504.95" stroke="#231f20" stroke-width="0.9"/>
<text x="254.60" y="513.45" font-size="7.25" text-anchor="end" stroke="#231f20" stroke-width="0.08" transform="rotate(-45 254.60 513.45)">10:1</text>
<text x="270.97" y="513.45" font-size="7.25" text-anchor="end" stroke="#231f20" stroke-width="0.08" transform="rotate(-45 270.97 513.45)">5:1</text>
<text x="287.34" y="513.45" font-size="7.25" text-anchor="end" stroke="#231f20" stroke-width="0.08" transform="rotate(-45 287.34 513.45)">2.5:1</text>
<text x="303.71" y="513.45" font-size="7.25" text-anchor="end" stroke="#231f20" stroke-width="0.08" transform="rotate(-45 303.71 513.45)">1.25:1</text>
<text x="320.08" y="513.45" font-size="7.25" text-anchor="end" stroke="#231f20" stroke-width="0.08" transform="rotate(-45 320.08 513.45)">0.625:1</text>
<text x="336.45" y="513.45" font-size="7.25" text-anchor="end" stroke="#231f20" stroke-width="0.08" transform="rotate(-45 336.45 513.45)">0.3125:1</text>
<text x="352.82" y="513.45" font-size="7.25" text-anchor="end" stroke="#231f20" stroke-width="0.08" transform="rotate(-45 352.82 513.45)">0.156:1</text>
<text x="299.70" y="422.80" font-size="8.0" text-anchor="middle" stroke="#231f20" stroke-width="0.08" textLength="80.8" lengthAdjust="spacingAndGlyphs">Target: activated T cells</text>
<text x="208.40" y="464.30" font-size="9.8" text-anchor="middle" stroke="#231f20" stroke-width="0.08" textLength="25.5" lengthAdjust="spacingAndGlyphs" transform="rotate(-90 208.40 464.30)">Count</text>
<text x="299.30" y="547.00" font-size="9.8" text-anchor="middle" stroke="#231f20" stroke-width="0.08" textLength="11.9" lengthAdjust="spacingAndGlyphs">E:T</text>
<text x="364.00" y="406.60" font-size="12.2" stroke="#231f20" stroke-width="0.08" textLength="7.2" lengthAdjust="spacingAndGlyphs" style="stroke-width:0.3px">H</text>
<line x1="402.30" y1="426.00" x2="402.30" y2="503.05" stroke="#111" stroke-width="1.2"/>
<line x1="401.70" y1="502.45" x2="512.80" y2="502.45" stroke="#111" stroke-width="1.2"/>
<line x1="399.70" y1="502.45" x2="402.30" y2="502.45" stroke="#231f20" stroke-width="0.9"/>
<text x="395.60" y="505.35" font-size="8.0" text-anchor="end" stroke="#231f20" stroke-width="0.08" textLength="4.2" lengthAdjust="spacingAndGlyphs">0</text>
<line x1="399.70" y1="490.20" x2="402.30" y2="490.20" stroke="#231f20" stroke-width="0.9"/>
<text x="395.60" y="493.10" font-size="8.0" text-anchor="end" stroke="#231f20" stroke-width="0.08" textLength="12.4" lengthAdjust="spacingAndGlyphs">500</text>
<line x1="399.70" y1="477.95" x2="402.30" y2="477.95" stroke="#231f20" stroke-width="0.9"/>
<text x="395.60" y="480.85" font-size="8.0" text-anchor="end" stroke="#231f20" stroke-width="0.08" textLength="16.6" lengthAdjust="spacingAndGlyphs">1000</text>
<line x1="399.70" y1="465.70" x2="402.30" y2="465.70" stroke="#231f20" stroke-width="0.9"/>
<text x="395.60" y="468.60" font-size="8.0" text-anchor="end" stroke="#231f20" stroke-width="0.08" textLength="16.6" lengthAdjust="spacingAndGlyphs">1500</text>
<line x1="399.70" y1="453.45" x2="402.30" y2="453.45" stroke="#231f20" stroke-width="0.9"/>
<text x="395.60" y="456.35" font-size="8.0" text-anchor="end" stroke="#231f20" stroke-width="0.08" textLength="16.6" lengthAdjust="spacingAndGlyphs">2000</text>
<line x1="399.70" y1="441.20" x2="402.30" y2="441.20" stroke="#231f20" stroke-width="0.9"/>
<text x="395.60" y="444.10" font-size="8.0" text-anchor="end" stroke="#231f20" stroke-width="0.08" textLength="16.6" lengthAdjust="spacingAndGlyphs">2500</text>
<line x1="399.70" y1="428.95" x2="402.30" y2="428.95" stroke="#231f20" stroke-width="0.9"/>
<text x="395.60" y="431.85" font-size="8.0" text-anchor="end" stroke="#231f20" stroke-width="0.08" textLength="16.6" lengthAdjust="spacingAndGlyphs">3000</text>
<rect x="403.00" y="458.28" width="2.30" height="44.17" fill="#b0112f"/>
<rect x="406.40" y="501.71" width="2.30" height="0.73" fill="#1f3f7d"/>
<rect x="413.20" y="444.41" width="2.30" height="58.04" fill="#cac8ce"/>
<line x1="409.00" y1="502.45" x2="409.00" y2="504.95" stroke="#231f20" stroke-width="0.9"/>
<rect x="418.97" y="452.15" width="2.30" height="50.30" fill="#b0112f"/>
<rect x="422.37" y="501.96" width="2.30" height="0.49" fill="#1f3f7d"/>
<rect x="429.17" y="444.41" width="2.30" height="58.04" fill="#cac8ce"/>
<line x1="424.97" y1="502.45" x2="424.97" y2="504.95" stroke="#231f20" stroke-width="0.9"/>
<rect x="434.94" y="454.26" width="2.30" height="48.19" fill="#b0112f"/>
<rect x="438.34" y="499.51" width="2.30" height="2.94" fill="#1f3f7d"/>
<rect x="441.74" y="500.00" width="2.30" height="2.45" fill="#5fa93b"/>
<rect x="445.14" y="444.41" width="2.30" height="58.04" fill="#cac8ce"/>
<line x1="440.94" y1="502.45" x2="440.94" y2="504.95" stroke="#231f20" stroke-width="0.9"/>
<rect x="450.91" y="455.26" width="2.30" height="47.19" fill="#b0112f"/>
<rect x="454.31" y="486.38" width="2.30" height="16.07" fill="#1f3f7d"/>
<rect x="457.71" y="487.90" width="2.30" height="14.55" fill="#5fa93b"/>
<rect x="461.11" y="444.41" width="2.30" height="58.04" fill="#cac8ce"/>
<line x1="456.91" y1="502.45" x2="456.91" y2="504.95" stroke="#231f20" stroke-width="0.9"/>
<rect x="466.88" y="456.46" width="2.30" height="45.99" fill="#b0112f"/>
<rect x="470.28" y="471.21" width="2.30" height="31.24" fill="#1f3f7d"/>
<rect x="473.68" y="464.50" width="2.30" height="37.95" fill="#5fa93b"/>
<rect x="477.08" y="444.41" width="2.30" height="58.04" fill="#cac8ce"/>
<line x1="472.88" y1="502.45" x2="472.88" y2="504.95" stroke="#231f20" stroke-width="0.9"/>
<rect x="482.85" y="463.89" width="2.30" height="38.56" fill="#b0112f"/>
<rect x="486.25" y="459.28" width="2.30" height="43.17" fill="#1f3f7d"/>
<rect x="489.65" y="471.63" width="2.30" height="30.82" fill="#5fa93b"/>
<rect x="493.05" y="444.41" width="2.30" height="58.04" fill="#cac8ce"/>
<line x1="488.85" y1="502.45" x2="488.85" y2="504.95" stroke="#231f20" stroke-width="0.9"/>
<rect x="498.82" y="435.47" width="2.30" height="66.98" fill="#b0112f"/>
<rect x="502.22" y="450.24" width="2.30" height="52.21" fill="#1f3f7d"/>
<rect x="505.62" y="471.21" width="2.30" height="31.24" fill="#5fa93b"/>
<rect x="509.02" y="444.41" width="2.30" height="58.04" fill="#cac8ce"/>
<line x1="504.82" y1="502.45" x2="504.82" y2="504.95" stroke="#231f20" stroke-width="0.9"/>
<text x="413.60" y="513.45" font-size="7.25" text-anchor="end" stroke="#231f20" stroke-width="0.08" transform="rotate(-45 413.60 513.45)">10:1</text>
<text x="429.57" y="513.45" font-size="7.25" text-anchor="end" stroke="#231f20" stroke-width="0.08" transform="rotate(-45 429.57 513.45)">5:1</text>
<text x="445.54" y="513.45" font-size="7.25" text-anchor="end" stroke="#231f20" stroke-width="0.08" transform="rotate(-45 445.54 513.45)">2.5:1</text>
<text x="461.51" y="513.45" font-size="7.25" text-anchor="end" stroke="#231f20" stroke-width="0.08" transform="rotate(-45 461.51 513.45)">1.25:1</text>
<text x="477.48" y="513.45" font-size="7.25" text-anchor="end" stroke="#231f20" stroke-width="0.08" transform="rotate(-45 477.48 513.45)">0.625:1</text>
<text x="493.45" y="513.45" font-size="7.25" text-anchor="end" stroke="#231f20" stroke-width="0.08" transform="rotate(-45 493.45 513.45)">0.3125:1</text>
<text x="509.42" y="513.45" font-size="7.25" text-anchor="end" stroke="#231f20" stroke-width="0.08" transform="rotate(-45 509.42 513.45)">0.156:1</text>
<text x="457.40" y="422.80" font-size="8.0" text-anchor="middle" stroke="#231f20" stroke-width="0.08" textLength="22.3" lengthAdjust="spacingAndGlyphs">Jeko-1</text>
<text x="372.20" y="464.30" font-size="9.8" text-anchor="middle" stroke="#231f20" stroke-width="0.08" textLength="71.3" lengthAdjust="spacingAndGlyphs" transform="rotate(-90 372.20 464.30)">Count GFP+ cells</text>
<text x="452.60" y="547.00" font-size="9.8" text-anchor="middle" stroke="#231f20" stroke-width="0.08" textLength="11.9" lengthAdjust="spacingAndGlyphs">E:T</text>
<text x="12.60" y="566.00" font-size="12.2" stroke="#231f20" stroke-width="0.08" style="stroke-width:0.3px">I</text>
<line x1="39.50" y1="586.80" x2="39.50" y2="667.85" stroke="#111" stroke-width="1.2"/>
<line x1="38.90" y1="667.25" x2="165.20" y2="667.25" stroke="#111" stroke-width="1.2"/>
<line x1="36.20" y1="667.25" x2="39.50" y2="667.25" stroke="#111" stroke-width="1.0"/>
<text x="32.80" y="669.55" font-size="8.3" text-anchor="end" stroke="#231f20" stroke-width="0.08" textLength="4.017" lengthAdjust="spacingAndGlyphs">0</text>
<line x1="36.20" y1="651.50" x2="39.50" y2="651.50" stroke="#111" stroke-width="1.0"/>
<text x="32.80" y="653.80" font-size="8.3" text-anchor="end" stroke="#231f20" stroke-width="0.08" textLength="4.017" lengthAdjust="spacingAndGlyphs">5</text>
<line x1="36.20" y1="635.75" x2="39.50" y2="635.75" stroke="#111" stroke-width="1.0"/>
<text x="32.80" y="638.05" font-size="8.3" text-anchor="end" stroke="#231f20" stroke-width="0.08" textLength="8.034" lengthAdjust="spacingAndGlyphs">10</text>
<line x1="36.20" y1="620.00" x2="39.50" y2="620.00" stroke="#111" stroke-width="1.0"/>
<text x="32.80" y="622.30" font-size="8.3" text-anchor="end" stroke="#231f20" stroke-width="0.08" textLength="8.034" lengthAdjust="spacingAndGlyphs">15</text>
<line x1="36.20" y1="604.25" x2="39.50" y2="604.25" stroke="#111" stroke-width="1.0"/>
<text x="32.80" y="606.55" font-size="8.3" text-anchor="end" stroke="#231f20" stroke-width="0.08" textLength="8.034" lengthAdjust="spacingAndGlyphs">20</text>
<line x1="36.20" y1="588.50" x2="39.50" y2="588.50" stroke="#111" stroke-width="1.0"/>
<text x="32.80" y="590.80" font-size="8.3" text-anchor="end" stroke="#231f20" stroke-width="0.08" textLength="8.034" lengthAdjust="spacingAndGlyphs">25</text>
<line x1="49.10" y1="643.94" x2="49.10" y2="649.74" stroke="#1a1a1a" stroke-width="0.9"/>
<line x1="48.10" y1="643.94" x2="50.10" y2="643.94" stroke="#1a1a1a" stroke-width="0.9"/>
<rect x="46.20" y="649.74" width="5.80" height="17.51" fill="#274884"/>
<line x1="54.90" y1="636.07" x2="54.90" y2="645.64" stroke="#1a1a1a" stroke-width="0.9"/>
<line x1="53.90" y1="636.07" x2="55.90" y2="636.07" stroke="#1a1a1a" stroke-width="0.9"/>
<rect x="52.00" y="645.64" width="5.80" height="21.61" fill="#69b140"/>
<line x1="49.10" y1="667.25" x2="49.10" y2="669.75" stroke="#231f20" stroke-width="0.9"/>
<text x="52.30" y="676.15" font-size="7.9" text-anchor="end" stroke="#231f20" stroke-width="0.08" transform="rotate(-45 52.30 676.15)">monocytes</text>
<line x1="70.50" y1="664.41" x2="70.50" y2="665.83" stroke="#1a1a1a" stroke-width="0.9"/>
<line x1="69.50" y1="664.41" x2="71.50" y2="664.41" stroke="#1a1a1a" stroke-width="0.9"/>
<rect x="67.60" y="665.83" width="5.80" height="1.42" fill="#274884"/>
<line x1="76.30" y1="665.36" x2="76.30" y2="665.99" stroke="#1a1a1a" stroke-width="0.9"/>
<line x1="75.30" y1="665.36" x2="77.30" y2="665.36" stroke="#1a1a1a" stroke-width="0.9"/>
<rect x="73.40" y="665.99" width="5.80" height="1.26" fill="#69b140"/>
<line x1="70.50" y1="667.25" x2="70.50" y2="669.75" stroke="#231f20" stroke-width="0.9"/>
<text x="73.70" y="676.15" font-size="7.9" text-anchor="end" stroke="#231f20" stroke-width="0.08" transform="rotate(-45 73.70 676.15)">macrophages M1</text>
<line x1="91.90" y1="660.32" x2="91.90" y2="660.95" stroke="#1a1a1a" stroke-width="0.9"/>
<line x1="90.90" y1="660.32" x2="92.90" y2="660.32" stroke="#1a1a1a" stroke-width="0.9"/>
<rect x="89.00" y="660.95" width="5.80" height="6.30" fill="#274884"/>
<line x1="97.70" y1="663.78" x2="97.70" y2="665.04" stroke="#1a1a1a" stroke-width="0.9"/>
<line x1="96.70" y1="663.78" x2="98.70" y2="663.78" stroke="#1a1a1a" stroke-width="0.9"/>
<rect x="94.80" y="665.04" width="5.80" height="2.20" fill="#69b140"/>
<line x1="91.90" y1="667.25" x2="91.90" y2="669.75" stroke="#231f20" stroke-width="0.9"/>
<text x="95.10" y="676.15" font-size="7.9" text-anchor="end" stroke="#231f20" stroke-width="0.08" transform="rotate(-45 95.10 676.15)">macrophages M2</text>
<line x1="113.30" y1="655.60" x2="113.30" y2="658.24" stroke="#1a1a1a" stroke-width="0.9"/>
<line x1="112.30" y1="655.60" x2="114.30" y2="655.60" stroke="#1a1a1a" stroke-width="0.9"/>
<rect x="110.40" y="658.24" width="5.80" height="9.01" fill="#274884"/>
<line x1="119.10" y1="648.35" x2="119.10" y2="651.06" stroke="#1a1a1a" stroke-width="0.9"/>
<line x1="118.10" y1="648.35" x2="120.10" y2="648.35" stroke="#1a1a1a" stroke-width="0.9"/>
<rect x="116.20" y="651.06" width="5.80" height="16.19" fill="#69b140"/>
<line x1="113.30" y1="667.25" x2="113.30" y2="669.75" stroke="#231f20" stroke-width="0.9"/>
<text x="116.50" y="676.15" font-size="7.9" text-anchor="end" stroke="#231f20" stroke-width="0.08" transform="rotate(-45 116.50 676.15)">NK</text>
<rect x="131.80" y="664.54" width="5.80" height="2.71" fill="#274884"/>
<rect x="137.60" y="664.41" width="5.80" height="2.83" fill="#69b140"/>
<line x1="134.70" y1="667.25" x2="134.70" y2="669.75" stroke="#231f20" stroke-width="0.9"/>
<text x="137.90" y="676.15" font-size="7.9" text-anchor="end" stroke="#231f20" stroke-width="0.08" transform="rotate(-45 137.90 676.15)">media</text>
<line x1="156.10" y1="640.16" x2="156.10" y2="646.24" stroke="#1a1a1a" stroke-width="0.9"/>
<line x1="155.10" y1="640.16" x2="157.10" y2="640.16" stroke="#1a1a1a" stroke-width="0.9"/>
<rect x="153.20" y="646.24" width="5.80" height="21.01" fill="#274884"/>
<line x1="161.90" y1="599.84" x2="161.90" y2="614.33" stroke="#1a1a1a" stroke-width="0.9"/>
<line x1="160.90" y1="599.84" x2="162.90" y2="599.84" stroke="#1a1a1a" stroke-width="0.9"/>
<rect x="159.00" y="614.33" width="5.80" height="52.92" fill="#69b140"/>
<line x1="156.10" y1="667.25" x2="156.10" y2="669.75" stroke="#231f20" stroke-width="0.9"/>
<text x="159.30" y="676.15" font-size="7.9" text-anchor="end" stroke="#231f20" stroke-width="0.08" transform="rotate(-45 159.30 676.15)">PMA</text>
<text x="17.20" y="626.70" font-size="9.8" text-anchor="middle" stroke="#231f20" stroke-width="0.08" textLength="111.4" lengthAdjust="spacingAndGlyphs" transform="rotate(-90 17.20 626.70)">Fold chage CD107a+ IFNγ+</text>
<line x1="202.90" y1="586.60" x2="202.90" y2="667.95" stroke="#111" stroke-width="1.2"/>
<line x1="202.30" y1="667.35" x2="329.40" y2="667.35" stroke="#111" stroke-width="1.2"/>
<line x1="199.60" y1="667.35" x2="202.90" y2="667.35" stroke="#111" stroke-width="1.0"/>
<text x="196.80" y="669.65" font-size="8.3" text-anchor="end" stroke="#231f20" stroke-width="0.08" textLength="4.017" lengthAdjust="spacingAndGlyphs">0</text>
<line x1="199.60" y1="651.78" x2="202.90" y2="651.78" stroke="#111" stroke-width="1.0"/>
<text x="196.80" y="654.08" font-size="8.3" text-anchor="end" stroke="#231f20" stroke-width="0.08" textLength="4.017" lengthAdjust="spacingAndGlyphs">3</text>
<line x1="199.60" y1="636.21" x2="202.90" y2="636.21" stroke="#111" stroke-width="1.0"/>
<text x="196.80" y="638.51" font-size="8.3" text-anchor="end" stroke="#231f20" stroke-width="0.08" textLength="4.017" lengthAdjust="spacingAndGlyphs">6</text>
<line x1="199.60" y1="620.64" x2="202.90" y2="620.64" stroke="#111" stroke-width="1.0"/>
<text x="196.80" y="622.94" font-size="8.3" text-anchor="end" stroke="#231f20" stroke-width="0.08" textLength="4.017" lengthAdjust="spacingAndGlyphs">9</text>
<line x1="199.60" y1="605.07" x2="202.90" y2="605.07" stroke="#111" stroke-width="1.0"/>
<text x="196.80" y="607.37" font-size="8.3" text-anchor="end" stroke="#231f20" stroke-width="0.08" textLength="8.034" lengthAdjust="spacingAndGlyphs">12</text>
<line x1="199.60" y1="589.50" x2="202.90" y2="589.50" stroke="#111" stroke-width="1.0"/>
<text x="196.80" y="591.80" font-size="8.3" text-anchor="end" stroke="#231f20" stroke-width="0.08" textLength="8.034" lengthAdjust="spacingAndGlyphs">15</text>
<line x1="212.45" y1="637.25" x2="212.45" y2="646.59" stroke="#1a1a1a" stroke-width="0.9"/>
<line x1="211.45" y1="637.25" x2="213.45" y2="637.25" stroke="#1a1a1a" stroke-width="0.9"/>
<rect x="210.00" y="646.59" width="4.90" height="20.76" fill="#274884"/>
<line x1="217.35" y1="618.56" x2="217.35" y2="631.54" stroke="#1a1a1a" stroke-width="0.9"/>
<line x1="216.35" y1="618.56" x2="218.35" y2="618.56" stroke="#1a1a1a" stroke-width="0.9"/>
<rect x="214.90" y="631.54" width="4.90" height="35.81" fill="#69b140"/>
<line x1="212.45" y1="667.35" x2="212.45" y2="669.85" stroke="#231f20" stroke-width="0.9"/>
<text x="215.65" y="676.25" font-size="7.9" text-anchor="end" stroke="#231f20" stroke-width="0.08" transform="rotate(-45 215.65 676.25)">monocytes</text>
<line x1="233.91" y1="654.38" x2="233.91" y2="658.79" stroke="#1a1a1a" stroke-width="0.9"/>
<line x1="232.91" y1="654.38" x2="234.91" y2="654.38" stroke="#1a1a1a" stroke-width="0.9"/>
<rect x="231.46" y="658.79" width="4.90" height="8.56" fill="#274884"/>
<line x1="238.81" y1="664.24" x2="238.81" y2="665.27" stroke="#1a1a1a" stroke-width="0.9"/>
<line x1="237.81" y1="664.24" x2="239.81" y2="664.24" stroke="#1a1a1a" stroke-width="0.9"/>
<rect x="236.36" y="665.27" width="4.90" height="2.08" fill="#69b140"/>
<line x1="233.91" y1="667.35" x2="233.91" y2="669.85" stroke="#231f20" stroke-width="0.9"/>
<text x="237.11" y="676.25" font-size="7.9" text-anchor="end" stroke="#231f20" stroke-width="0.08" transform="rotate(-45 237.11 676.25)">macrophages M1</text>
<line x1="255.37" y1="649.44" x2="255.37" y2="655.57" stroke="#1a1a1a" stroke-width="0.9"/>
<line x1="254.37" y1="649.44" x2="256.37" y2="649.44" stroke="#1a1a1a" stroke-width="0.9"/>
<rect x="252.92" y="655.57" width="4.90" height="11.78" fill="#274884"/>
<line x1="260.27" y1="663.20" x2="260.27" y2="664.75" stroke="#1a1a1a" stroke-width="0.9"/>
<line x1="259.27" y1="663.20" x2="261.27" y2="663.20" stroke="#1a1a1a" stroke-width="0.9"/>
<rect x="257.82" y="664.75" width="4.90" height="2.60" fill="#69b140"/>
<line x1="255.37" y1="667.35" x2="255.37" y2="669.85" stroke="#231f20" stroke-width="0.9"/>
<text x="258.57" y="676.25" font-size="7.9" text-anchor="end" stroke="#231f20" stroke-width="0.08" transform="rotate(-45 258.57 676.25)">macrophages M2</text>
<line x1="276.83" y1="655.93" x2="276.83" y2="658.01" stroke="#1a1a1a" stroke-width="0.9"/>
<line x1="275.83" y1="655.93" x2="277.83" y2="655.93" stroke="#1a1a1a" stroke-width="0.9"/>
<rect x="274.38" y="658.01" width="4.90" height="9.34" fill="#274884"/>
<line x1="281.73" y1="627.39" x2="281.73" y2="630.50" stroke="#1a1a1a" stroke-width="0.9"/>
<line x1="280.73" y1="627.39" x2="282.73" y2="627.39" stroke="#1a1a1a" stroke-width="0.9"/>
<rect x="279.28" y="630.50" width="4.90" height="36.85" fill="#69b140"/>
<line x1="276.83" y1="667.35" x2="276.83" y2="669.85" stroke="#231f20" stroke-width="0.9"/>
<text x="280.03" y="676.25" font-size="7.9" text-anchor="end" stroke="#231f20" stroke-width="0.08" transform="rotate(-45 280.03 676.25)">NK</text>
<rect x="295.84" y="662.16" width="4.90" height="5.19" fill="#274884"/>
<rect x="300.74" y="662.16" width="4.90" height="5.19" fill="#69b140"/>
<line x1="298.29" y1="667.35" x2="298.29" y2="669.85" stroke="#231f20" stroke-width="0.9"/>
<text x="301.49" y="676.25" font-size="7.9" text-anchor="end" stroke="#231f20" stroke-width="0.08" transform="rotate(-45 301.49 676.25)">media</text>
<line x1="319.75" y1="648.67" x2="319.75" y2="654.63" stroke="#1a1a1a" stroke-width="0.9"/>
<line x1="318.75" y1="648.67" x2="320.75" y2="648.67" stroke="#1a1a1a" stroke-width="0.9"/>
<rect x="317.30" y="654.63" width="4.90" height="12.72" fill="#274884"/>
<line x1="324.65" y1="598.84" x2="324.65" y2="610.78" stroke="#1a1a1a" stroke-width="0.9"/>
<line x1="323.65" y1="598.84" x2="325.65" y2="598.84" stroke="#1a1a1a" stroke-width="0.9"/>
<rect x="322.20" y="610.78" width="4.90" height="56.57" fill="#69b140"/>
<line x1="319.75" y1="667.35" x2="319.75" y2="669.85" stroke="#231f20" stroke-width="0.9"/>
<text x="322.95" y="676.25" font-size="7.9" text-anchor="end" stroke="#231f20" stroke-width="0.08" transform="rotate(-45 322.95 676.25)">PMA</text>
<text x="182.20" y="627.10" font-size="9.8" text-anchor="middle" stroke="#231f20" stroke-width="0.08" textLength="86.6" lengthAdjust="spacingAndGlyphs" transform="rotate(-90 182.20 627.10)">Fold chage CD107a+</text>
<line x1="366.90" y1="586.60" x2="366.90" y2="667.95" stroke="#111" stroke-width="1.2"/>
<line x1="366.30" y1="667.35" x2="493.20" y2="667.35" stroke="#111" stroke-width="1.2"/>
<line x1="363.60" y1="667.35" x2="366.90" y2="667.35" stroke="#111" stroke-width="1.0"/>
<text x="361.00" y="669.65" font-size="8.3" text-anchor="end" stroke="#231f20" stroke-width="0.08" textLength="4.017" lengthAdjust="spacingAndGlyphs">0</text>
<line x1="363.60" y1="656.26" x2="366.90" y2="656.26" stroke="#111" stroke-width="1.0"/>
<text x="361.00" y="658.56" font-size="8.3" text-anchor="end" stroke="#231f20" stroke-width="0.08" textLength="4.017" lengthAdjust="spacingAndGlyphs">5</text>
<line x1="363.60" y1="645.18" x2="366.90" y2="645.18" stroke="#111" stroke-width="1.0"/>
<text x="361.00" y="647.48" font-size="8.3" text-anchor="end" stroke="#231f20" stroke-width="0.08" textLength="8.034" lengthAdjust="spacingAndGlyphs">10</text>
<line x1="363.60" y1="634.10" x2="366.90" y2="634.10" stroke="#111" stroke-width="1.0"/>
<text x="361.00" y="636.39" font-size="8.3" text-anchor="end" stroke="#231f20" stroke-width="0.08" textLength="8.034" lengthAdjust="spacingAndGlyphs">15</text>
<line x1="363.60" y1="623.01" x2="366.90" y2="623.01" stroke="#111" stroke-width="1.0"/>
<text x="361.00" y="625.31" font-size="8.3" text-anchor="end" stroke="#231f20" stroke-width="0.08" textLength="8.034" lengthAdjust="spacingAndGlyphs">20</text>
<line x1="363.60" y1="611.93" x2="366.90" y2="611.93" stroke="#111" stroke-width="1.0"/>
<text x="361.00" y="614.23" font-size="8.3" text-anchor="end" stroke="#231f20" stroke-width="0.08" textLength="8.034" lengthAdjust="spacingAndGlyphs">25</text>
<line x1="363.60" y1="600.84" x2="366.90" y2="600.84" stroke="#111" stroke-width="1.0"/>
<text x="361.00" y="603.14" font-size="8.3" text-anchor="end" stroke="#231f20" stroke-width="0.08" textLength="8.034" lengthAdjust="spacingAndGlyphs">30</text>
<line x1="363.60" y1="589.75" x2="366.90" y2="589.75" stroke="#111" stroke-width="1.0"/>
<text x="361.00" y="592.05" font-size="8.3" text-anchor="end" stroke="#231f20" stroke-width="0.08" textLength="8.034" lengthAdjust="spacingAndGlyphs">35</text>
<line x1="376.55" y1="658.48" x2="376.55" y2="661.14" stroke="#1a1a1a" stroke-width="0.9"/>
<line x1="375.55" y1="658.48" x2="377.55" y2="658.48" stroke="#1a1a1a" stroke-width="0.9"/>
<rect x="374.10" y="661.14" width="4.90" height="6.21" fill="#274884"/>
<line x1="381.45" y1="664.25" x2="381.45" y2="665.13" stroke="#1a1a1a" stroke-width="0.9"/>
<line x1="380.45" y1="664.25" x2="382.45" y2="664.25" stroke="#1a1a1a" stroke-width="0.9"/>
<rect x="379.00" y="665.13" width="4.90" height="2.22" fill="#69b140"/>
<line x1="376.55" y1="667.35" x2="376.55" y2="669.85" stroke="#231f20" stroke-width="0.9"/>
<text x="379.75" y="676.25" font-size="7.9" text-anchor="end" stroke="#231f20" stroke-width="0.08" transform="rotate(-45 379.75 676.25)">monocytes</text>
<line x1="397.93" y1="662.47" x2="397.93" y2="664.02" stroke="#1a1a1a" stroke-width="0.9"/>
<line x1="396.93" y1="662.47" x2="398.93" y2="662.47" stroke="#1a1a1a" stroke-width="0.9"/>
<rect x="395.48" y="664.02" width="4.90" height="3.33" fill="#274884"/>
<line x1="402.83" y1="664.25" x2="402.83" y2="666.24" stroke="#1a1a1a" stroke-width="0.9"/>
<line x1="401.83" y1="664.25" x2="403.83" y2="664.25" stroke="#1a1a1a" stroke-width="0.9"/>
<rect x="400.38" y="666.24" width="4.90" height="1.11" fill="#69b140"/>
<line x1="397.93" y1="667.35" x2="397.93" y2="669.85" stroke="#231f20" stroke-width="0.9"/>
<text x="401.13" y="676.25" font-size="7.9" text-anchor="end" stroke="#231f20" stroke-width="0.08" transform="rotate(-45 401.13 676.25)">macrophages M1</text>
<line x1="419.31" y1="661.14" x2="419.31" y2="662.92" stroke="#1a1a1a" stroke-width="0.9"/>
<line x1="418.31" y1="661.14" x2="420.31" y2="661.14" stroke="#1a1a1a" stroke-width="0.9"/>
<rect x="416.86" y="662.92" width="4.90" height="4.43" fill="#274884"/>
<line x1="424.21" y1="656.26" x2="424.21" y2="659.59" stroke="#1a1a1a" stroke-width="0.9"/>
<line x1="423.21" y1="656.26" x2="425.21" y2="656.26" stroke="#1a1a1a" stroke-width="0.9"/>
<rect x="421.76" y="659.59" width="4.90" height="7.76" fill="#69b140"/>
<line x1="419.31" y1="667.35" x2="419.31" y2="669.85" stroke="#231f20" stroke-width="0.9"/>
<text x="422.51" y="676.25" font-size="7.9" text-anchor="end" stroke="#231f20" stroke-width="0.08" transform="rotate(-45 422.51 676.25)">macrophages M2</text>
<line x1="440.69" y1="656.26" x2="440.69" y2="659.59" stroke="#1a1a1a" stroke-width="0.9"/>
<line x1="439.69" y1="656.26" x2="441.69" y2="656.26" stroke="#1a1a1a" stroke-width="0.9"/>
<rect x="438.24" y="659.59" width="4.90" height="7.76" fill="#274884"/>
<line x1="445.59" y1="651.61" x2="445.59" y2="657.15" stroke="#1a1a1a" stroke-width="0.9"/>
<line x1="444.59" y1="651.61" x2="446.59" y2="651.61" stroke="#1a1a1a" stroke-width="0.9"/>
<rect x="443.14" y="657.15" width="4.90" height="10.20" fill="#69b140"/>
<line x1="440.69" y1="667.35" x2="440.69" y2="669.85" stroke="#231f20" stroke-width="0.9"/>
<text x="443.89" y="676.25" font-size="7.9" text-anchor="end" stroke="#231f20" stroke-width="0.08" transform="rotate(-45 443.89 676.25)">NK</text>
<rect x="459.62" y="666.24" width="4.90" height="1.11" fill="#274884"/>
<rect x="464.52" y="666.24" width="4.90" height="1.11" fill="#69b140"/>
<line x1="462.07" y1="667.35" x2="462.07" y2="669.85" stroke="#231f20" stroke-width="0.9"/>
<text x="465.27" y="676.25" font-size="7.9" text-anchor="end" stroke="#231f20" stroke-width="0.08" transform="rotate(-45 465.27 676.25)">media</text>
<line x1="483.45" y1="628.33" x2="483.45" y2="638.53" stroke="#1a1a1a" stroke-width="0.9"/>
<line x1="482.45" y1="628.33" x2="484.45" y2="628.33" stroke="#1a1a1a" stroke-width="0.9"/>
<rect x="481.00" y="638.53" width="4.90" height="28.82" fill="#274884"/>
<line x1="488.35" y1="595.08" x2="488.35" y2="614.36" stroke="#1a1a1a" stroke-width="0.9"/>
<line x1="487.35" y1="595.08" x2="489.35" y2="595.08" stroke="#1a1a1a" stroke-width="0.9"/>
<rect x="485.90" y="614.36" width="4.90" height="52.99" fill="#69b140"/>
<line x1="483.45" y1="667.35" x2="483.45" y2="669.85" stroke="#231f20" stroke-width="0.9"/>
<text x="486.65" y="676.25" font-size="7.9" text-anchor="end" stroke="#231f20" stroke-width="0.08" transform="rotate(-45 486.65 676.25)">PMA</text>
<text x="344.60" y="628.30" font-size="9.8" text-anchor="middle" stroke="#231f20" stroke-width="0.08" textLength="71.7" lengthAdjust="spacingAndGlyphs" transform="rotate(-90 344.60 628.30)">Fold chage IFNγ+</text>
<rect x="41.00" y="575.80" width="10.00" height="4.80" fill="#b0112f"/>
<text x="54.40" y="580.90" font-size="8.0" stroke="#231f20" stroke-width="0.08" textLength="15.1" lengthAdjust="spacingAndGlyphs">UTD</text>
<rect x="75.40" y="575.80" width="10.00" height="4.80" fill="#274884"/>
<text x="90.20" y="580.90" font-size="8.0" stroke="#231f20" stroke-width="0.08" textLength="25.6" lengthAdjust="spacingAndGlyphs">CAR-37</text>
<rect x="122.40" y="575.80" width="10.00" height="4.80" fill="#69b140"/>
<text x="136.00" y="580.90" font-size="8.0" stroke="#231f20" stroke-width="0.08" textLength="25.5" lengthAdjust="spacingAndGlyphs">CAR-19</text>
</g>
<rect x="0.75" y="0.6" width="518.5" height="731.7" fill="none" stroke="#1e1e1e" stroke-width="1.5"/>
</svg>
</body></html>
